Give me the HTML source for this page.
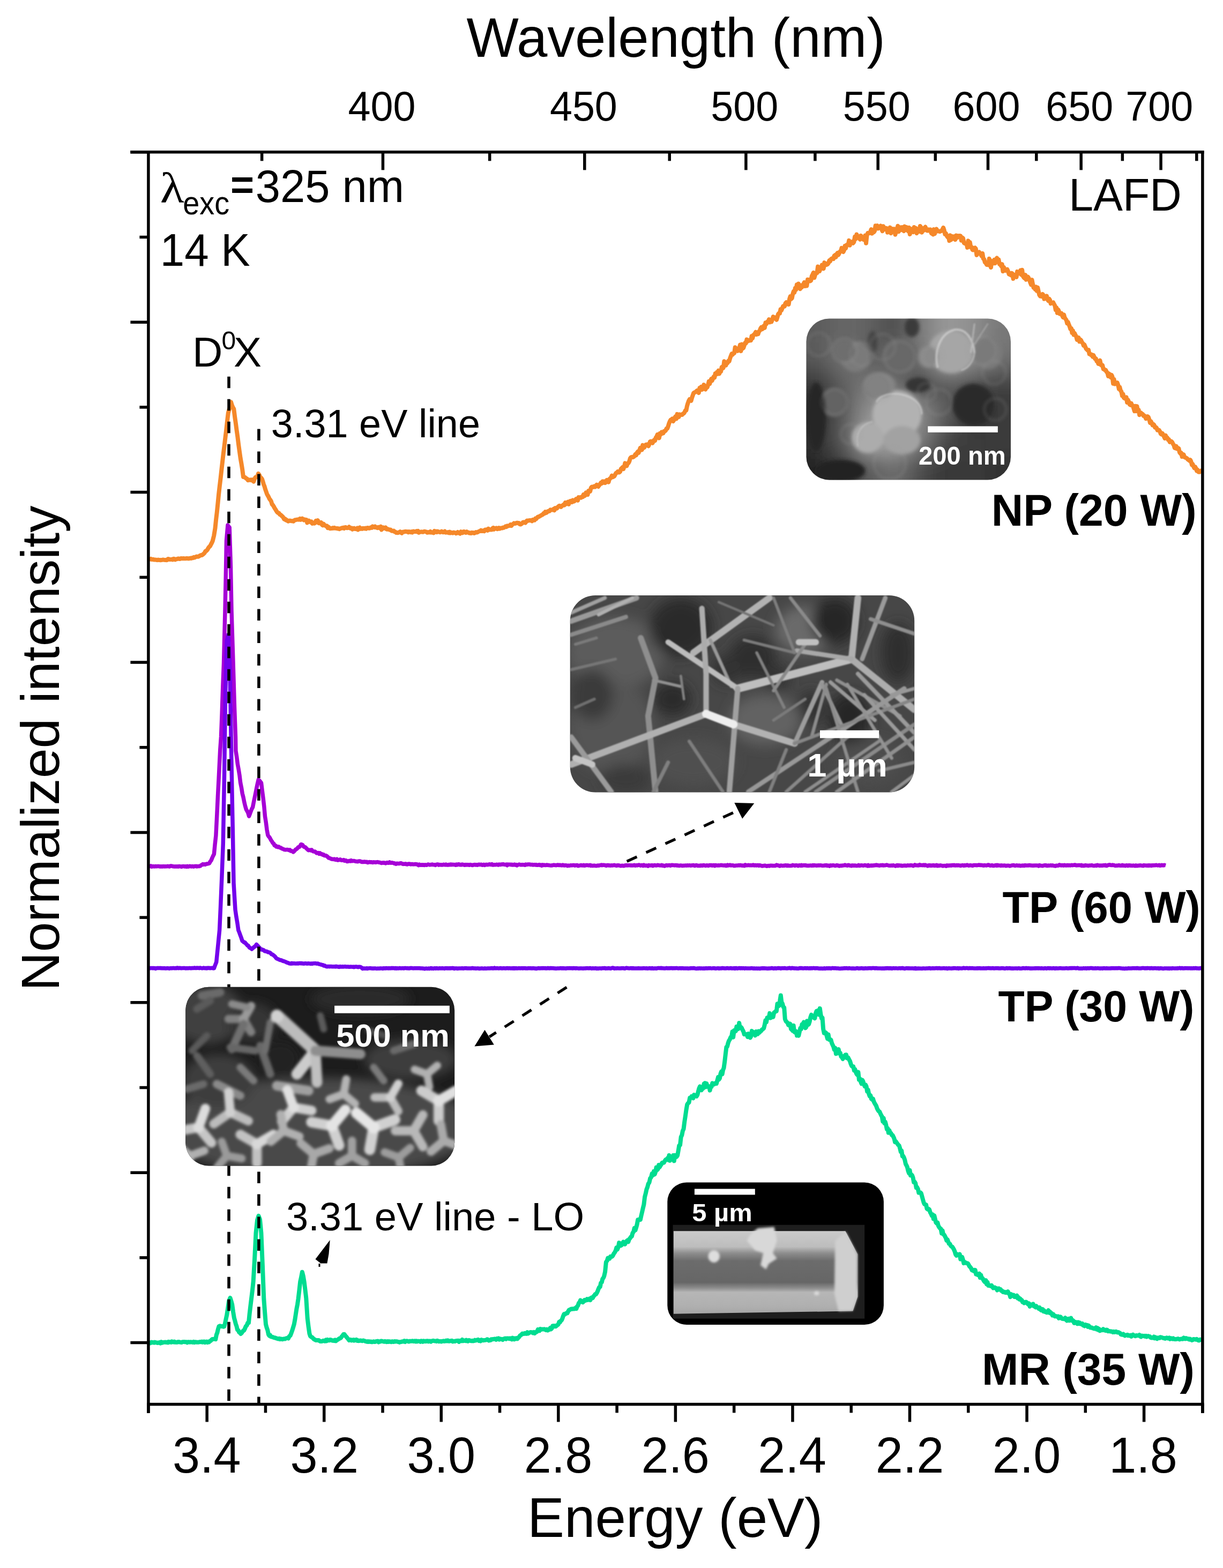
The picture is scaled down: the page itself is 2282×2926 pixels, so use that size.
<!DOCTYPE html>
<html><head><meta charset="utf-8"><title>PL spectra</title><style>html,body{margin:0;padding:0;background:#fff;width:2282px;height:2926px;overflow:hidden}svg{display:block}</style></head><body>
<svg width="2282" height="2926" viewBox="0 0 2282 2926">
<rect width="2282" height="2926" fill="#fff"/>
<polyline points="276.9,1042.9 278.4,1043.5 279.9,1043.5 281.4,1042.8 282.9,1044.1 284.4,1044.1 286.0,1043.7 287.5,1044.6 289.0,1044.5 290.5,1044.6 292.0,1044.8 293.5,1045.2 295.0,1044.5 296.6,1045.1 298.1,1044.9 299.6,1045.3 301.1,1044.9 302.7,1044.8 304.2,1044.4 305.7,1044.7 307.3,1044.9 308.8,1044.9 310.3,1045.2 311.8,1045.0 313.4,1042.9 314.9,1043.2 316.4,1044.1 317.9,1044.0 319.4,1043.9 321.0,1043.6 322.5,1044.4 324.0,1042.7 325.5,1043.1 327.0,1044.4 328.5,1043.4 330.0,1043.3 331.5,1042.7 333.0,1042.3 334.5,1043.0 336.0,1042.9 337.5,1042.0 339.0,1042.1 340.5,1042.3 342.1,1041.9 343.8,1042.3 345.4,1042.3 347.1,1042.2 348.7,1041.7 350.3,1042.2 352.0,1042.4 353.6,1042.0 355.3,1041.4 356.9,1041.9 358.5,1040.9 360.1,1041.2 361.7,1039.8 363.4,1040.4 365.0,1039.4 366.6,1038.5 368.2,1038.8 369.8,1038.7 371.4,1038.1 373.1,1036.8 374.7,1036.0 376.4,1036.1 378.0,1035.1 379.8,1033.6 381.6,1032.0 383.3,1028.7 385.1,1027.8 386.9,1026.0 388.6,1022.9 390.4,1020.4 392.1,1018.9 393.7,1015.7 395.2,1013.0 396.8,1009.3 399.2,999.6 401.5,985.7 403.1,969.9 404.8,955.7 406.4,940.0 408.1,922.5 409.9,906.6 411.6,892.4 413.4,876.3 415.2,860.4 416.9,845.6 418.7,831.5 420.5,816.4 422.3,801.6 424.0,786.0 425.8,770.8 427.5,764.4 429.3,759.3 431.0,750.2 432.8,756.1 434.5,760.0 436.3,763.0 438.1,777.4 439.8,789.2 441.6,803.1 443.4,815.5 445.1,829.4 446.9,842.5 448.7,855.3 450.5,865.5 452.2,876.2 454.0,890.1 455.7,890.1 457.5,891.0 459.2,892.8 461.0,893.3 462.7,896.1 464.2,895.6 465.7,895.8 467.2,895.2 468.8,896.1 470.3,895.2 471.8,897.1 473.3,898.5 475.0,893.6 476.8,890.4 478.5,890.4 480.3,889.2 482.0,883.8 483.8,886.3 485.5,890.4 487.2,891.5 489.0,894.0 490.5,898.7 492.0,903.9 493.5,907.6 495.0,912.9 496.5,917.1 498.0,921.6 499.6,924.6 501.2,927.3 502.8,931.0 504.4,932.9 506.0,935.5 507.6,941.0 509.2,942.5 510.8,945.1 512.4,948.2 514.0,950.5 515.6,953.3 517.2,955.6 518.8,957.1 520.5,957.5 522.1,960.1 523.7,960.7 525.3,962.3 526.9,963.6 528.5,965.6 530.1,968.6 531.8,968.0 533.4,970.5 535.0,970.3 536.5,972.0 538.1,972.8 539.6,971.7 541.1,971.5 542.7,972.0 544.2,972.3 545.7,972.1 547.3,972.8 548.8,971.3 550.3,970.3 551.9,970.3 553.4,969.8 554.9,969.6 556.5,969.5 558.0,969.7 559.5,967.9 561.0,969.8 562.5,968.0 564.0,967.6 565.5,969.5 567.0,970.6 568.5,969.4 570.1,970.1 571.6,969.9 573.2,975.5 574.8,973.5 576.3,971.8 577.9,973.0 579.5,974.3 581.0,973.4 582.6,976.9 584.3,975.6 586.1,976.7 587.8,976.0 589.5,971.8 591.3,974.2 593.0,971.2 594.5,976.1 596.1,975.6 597.6,976.5 599.2,975.0 600.8,979.1 602.3,980.3 603.9,977.6 605.4,980.3 606.9,980.6 608.5,981.9 610.0,981.4 611.6,985.2 613.1,983.5 614.7,984.8 616.2,986.3 617.8,985.9 619.3,985.9 620.9,985.0 622.4,985.8 623.9,984.9 625.4,985.7 627.0,985.9 628.5,985.9 630.0,986.4 631.5,986.2 633.1,987.3 634.6,986.4 636.1,986.0 637.6,985.2 639.2,985.6 640.7,984.7 642.2,986.0 643.8,984.0 645.3,984.0 646.8,985.2 648.3,985.2 649.9,984.7 651.4,983.3 652.9,985.7 654.4,986.0 656.0,985.3 657.5,987.8 659.0,986.2 660.5,985.6 662.1,987.0 663.6,987.0 665.1,987.4 666.6,985.6 668.1,988.5 669.6,985.6 671.2,984.5 672.7,986.8 674.2,986.0 675.7,986.9 677.2,985.7 678.7,986.1 680.2,986.4 681.7,985.5 683.2,986.8 684.8,985.4 686.3,984.9 687.8,985.7 689.3,985.8 690.8,985.1 692.3,984.0 693.8,984.9 695.3,982.3 696.9,983.0 698.4,983.9 699.9,982.5 701.4,984.2 702.9,984.4 704.4,985.2 705.9,983.7 707.4,984.1 708.9,985.6 710.5,982.6 712.0,988.4 713.5,985.0 715.0,984.4 716.5,986.0 718.0,985.6 719.5,984.4 721.0,987.4 722.5,987.8 724.0,987.3 725.5,988.0 727.0,988.8 728.6,988.4 730.1,990.1 731.6,990.8 733.1,990.8 734.6,990.5 736.1,992.3 737.6,992.5 739.1,994.0 740.6,993.7 742.2,994.3 743.7,993.6 745.2,993.2 746.7,992.1 748.2,994.0 749.8,994.8 751.3,992.6 752.8,992.4 754.3,992.4 755.8,991.9 757.4,991.8 758.9,992.3 760.4,992.1 761.9,993.3 763.4,992.1 765.0,992.5 766.5,993.3 768.0,992.2 769.5,993.5 771.0,991.5 772.6,991.8 774.1,992.2 775.6,992.1 777.1,991.2 778.7,992.6 780.2,991.1 781.7,993.8 783.2,992.7 784.7,992.7 786.3,992.3 787.8,992.7 789.3,992.8 790.8,991.9 792.3,991.7 793.9,992.1 795.4,992.4 796.9,993.8 798.4,993.7 799.9,992.9 801.5,993.4 803.0,991.9 804.5,993.7 806.0,993.3 807.5,993.9 809.0,994.4 810.5,990.9 812.0,992.8 813.5,991.7 815.0,993.1 816.5,991.6 818.0,992.0 819.5,992.8 821.0,993.3 822.5,992.6 824.0,991.6 825.5,992.3 827.0,993.3 828.5,992.7 830.0,991.6 831.5,993.8 833.0,993.3 834.5,993.7 836.0,993.1 837.5,994.3 839.0,992.8 840.5,994.5 842.0,993.6 843.5,994.2 845.0,994.7 846.5,993.5 848.0,993.9 849.5,994.2 851.0,995.4 852.5,994.8 854.0,993.0 855.5,994.4 857.0,994.9 858.5,995.8 860.0,992.2 861.6,993.3 863.1,994.3 864.7,992.0 866.2,992.0 867.8,993.5 869.3,994.1 870.9,992.3 872.4,993.5 874.0,993.4 875.6,994.8 877.1,994.2 878.7,995.2 880.2,993.9 881.8,994.4 883.3,994.0 884.9,995.0 886.4,994.2 888.0,993.1 889.6,993.6 891.1,993.1 892.7,992.1 894.3,991.4 895.8,991.1 897.4,989.6 899.0,991.1 900.5,991.1 902.1,990.0 903.6,991.2 905.2,988.6 906.8,988.5 908.3,988.0 909.9,989.8 911.4,986.7 912.9,988.4 914.4,988.6 915.9,988.0 917.4,988.5 918.9,986.1 920.4,985.0 921.9,987.7 923.4,985.7 924.9,986.2 926.4,985.3 927.9,987.3 929.4,986.7 930.9,985.2 932.4,986.6 933.9,985.6 935.4,985.5 936.9,985.6 938.4,984.4 939.9,984.7 941.5,983.8 943.1,982.4 944.7,983.2 946.3,981.2 947.9,981.7 949.5,980.9 951.1,981.1 952.6,978.9 954.2,981.1 955.8,978.8 957.4,977.8 959.0,976.3 960.6,977.1 962.2,976.6 963.8,975.8 965.3,975.6 966.8,976.3 968.3,976.0 969.8,978.2 971.3,978.6 972.8,977.7 974.3,976.7 975.8,974.6 977.3,974.3 978.8,975.2 980.3,975.6 981.8,973.5 983.3,971.5 984.8,971.8 986.3,971.4 987.8,971.0 989.4,971.3 991.0,970.9 992.6,972.3 994.2,969.8 995.8,970.7 997.3,970.8 998.9,967.7 1000.5,968.3 1002.1,966.2 1003.7,964.4 1005.2,964.5 1006.8,963.3 1008.3,962.6 1009.9,961.7 1011.4,960.7 1012.9,960.2 1014.5,957.7 1016.0,958.2 1017.5,955.1 1019.1,956.9 1020.6,956.1 1022.2,954.1 1023.7,954.1 1025.2,953.8 1026.8,951.3 1028.3,951.4 1029.9,951.6 1031.4,951.5 1032.9,949.8 1034.5,952.2 1036.0,948.0 1037.5,948.5 1039.1,948.7 1040.6,946.4 1042.2,944.8 1043.7,943.8 1045.3,945.3 1046.9,946.0 1048.5,943.8 1050.1,943.2 1051.7,941.6 1053.2,942.6 1054.8,937.9 1056.4,940.6 1058.0,939.1 1059.6,936.6 1061.1,941.0 1062.7,935.6 1064.2,935.0 1065.8,934.7 1067.3,937.0 1068.8,933.4 1070.4,935.8 1071.9,935.2 1073.4,933.5 1075.0,931.0 1076.5,931.1 1078.1,933.8 1079.6,928.0 1081.1,928.6 1082.7,928.1 1084.2,928.7 1085.8,927.0 1087.3,927.3 1088.8,922.8 1090.4,925.6 1091.9,924.4 1093.4,919.4 1095.0,922.9 1096.5,923.0 1098.1,916.0 1099.6,916.1 1101.1,916.9 1102.7,910.6 1104.2,908.4 1105.7,908.5 1107.3,908.9 1108.8,907.5 1110.3,908.7 1111.8,907.5 1113.4,904.6 1114.9,906.5 1116.4,907.9 1118.0,905.5 1119.5,903.8 1121.1,901.0 1122.7,902.1 1124.3,898.3 1125.9,900.6 1127.5,898.4 1129.1,901.0 1130.7,899.8 1132.3,895.8 1133.9,897.8 1135.5,899.6 1137.1,894.2 1138.6,892.7 1140.2,891.3 1141.7,887.6 1143.3,890.4 1144.8,889.4 1146.4,888.6 1147.9,885.5 1149.5,882.6 1151.0,882.2 1152.6,880.0 1154.1,881.5 1155.6,881.5 1157.2,879.9 1158.7,874.9 1160.2,873.7 1161.7,871.9 1163.3,875.1 1164.8,870.4 1166.3,864.4 1167.9,867.8 1169.4,869.3 1171.0,864.9 1172.6,864.1 1174.3,860.8 1175.9,855.2 1177.5,853.2 1179.1,852.7 1180.8,853.2 1182.4,852.6 1184.0,850.9 1185.5,847.8 1187.0,849.3 1188.6,844.8 1190.1,842.7 1191.6,845.0 1193.1,840.6 1194.7,835.9 1196.2,837.7 1197.7,839.5 1199.2,830.8 1200.8,835.7 1202.3,835.1 1203.8,831.4 1205.3,829.7 1206.9,830.1 1208.4,829.2 1209.9,832.4 1211.4,829.3 1213.0,824.0 1214.5,823.5 1216.1,825.9 1217.6,826.8 1219.1,822.8 1220.7,821.1 1222.2,822.2 1223.7,816.8 1225.3,814.5 1226.8,810.8 1228.4,811.6 1229.9,817.4 1231.4,808.7 1233.0,810.5 1234.5,806.4 1236.0,808.7 1237.5,808.6 1239.1,804.6 1240.6,804.6 1242.1,803.4 1243.7,799.7 1245.2,799.7 1246.7,795.6 1248.3,790.2 1249.8,786.4 1251.3,783.7 1252.8,784.8 1254.4,781.3 1255.9,786.2 1257.4,784.0 1259.0,779.2 1260.5,777.1 1262.0,781.5 1263.6,772.9 1265.1,775.0 1266.6,778.0 1268.1,773.3 1269.7,774.4 1271.2,774.0 1272.7,774.1 1274.3,772.0 1275.8,771.6 1277.3,769.4 1278.9,765.9 1280.4,765.8 1282.0,757.6 1283.5,752.5 1285.0,748.4 1286.6,745.3 1288.1,746.7 1289.6,747.7 1291.2,741.9 1292.7,737.6 1294.3,733.2 1295.8,732.4 1297.4,731.8 1299.0,730.3 1300.6,728.8 1302.2,730.1 1303.8,733.0 1305.4,724.1 1307.0,727.9 1308.5,721.8 1310.1,726.9 1311.7,723.7 1313.3,718.0 1314.9,723.0 1316.5,726.5 1318.1,720.5 1319.7,722.7 1321.2,718.2 1322.7,711.9 1324.2,716.3 1325.7,711.1 1327.2,707.0 1328.7,710.3 1330.2,706.3 1331.7,702.8 1333.2,704.7 1334.7,697.1 1336.2,698.8 1337.7,694.7 1339.2,697.6 1340.7,691.6 1342.2,697.4 1343.7,692.2 1345.2,693.1 1346.7,684.9 1348.2,684.3 1349.7,686.6 1351.3,674.3 1352.8,677.5 1354.4,681.7 1356.0,677.7 1357.6,677.4 1359.1,673.4 1360.7,673.8 1362.3,668.1 1363.8,664.2 1365.4,660.2 1367.0,661.6 1368.6,659.2 1370.1,659.0 1371.7,648.2 1373.2,650.1 1374.8,652.6 1376.3,654.7 1377.9,650.4 1379.5,649.0 1381.0,643.6 1382.5,655.1 1384.1,642.4 1385.7,650.4 1387.2,649.2 1388.8,644.5 1390.3,639.8 1391.8,640.4 1393.4,633.6 1394.9,636.8 1396.5,634.8 1398.0,635.6 1399.6,634.3 1401.1,635.1 1402.6,627.2 1404.1,631.3 1405.6,625.3 1407.1,624.1 1408.6,622.5 1410.1,619.8 1411.6,624.2 1413.1,623.2 1414.6,623.2 1416.1,618.4 1417.6,617.3 1419.1,612.9 1420.6,610.6 1422.1,614.4 1423.6,612.7 1425.2,608.1 1426.8,611.9 1428.4,602.3 1430.0,604.5 1431.6,600.4 1433.2,600.5 1434.8,596.0 1436.3,601.3 1437.9,599.9 1439.5,600.5 1441.1,596.4 1442.7,591.0 1444.3,593.6 1445.9,592.5 1447.5,595.0 1449.0,596.8 1450.5,592.1 1452.0,586.2 1453.5,584.6 1455.0,584.6 1456.5,577.3 1458.0,579.2 1459.5,575.6 1461.0,571.6 1462.5,570.8 1464.0,571.5 1465.5,566.1 1467.0,564.3 1468.5,567.4 1470.1,564.5 1471.6,568.0 1473.1,558.0 1474.6,553.2 1476.2,558.0 1477.7,556.5 1479.2,548.7 1480.7,543.9 1482.3,545.7 1483.8,537.8 1485.3,540.6 1486.8,531.3 1488.4,536.3 1489.9,529.5 1491.4,533.0 1493.0,539.1 1494.5,532.9 1496.1,536.2 1497.6,531.8 1499.2,530.2 1500.7,526.9 1502.3,533.9 1503.8,529.0 1505.4,533.4 1507.0,521.7 1508.5,522.3 1510.1,521.8 1511.6,524.4 1513.2,523.5 1514.7,515.4 1516.3,512.3 1517.8,508.8 1519.4,518.3 1521.2,512.4 1523.0,509.2 1524.5,509.3 1526.1,497.5 1527.6,499.2 1529.1,506.2 1530.6,502.2 1532.2,500.3 1533.7,494.7 1535.2,498.4 1536.7,501.3 1538.3,490.1 1539.8,495.0 1541.3,492.0 1542.8,493.8 1544.4,492.9 1545.9,490.9 1547.4,486.1 1549.0,487.4 1550.5,483.7 1552.0,482.6 1553.6,482.0 1555.1,483.1 1556.6,477.3 1558.2,476.0 1559.7,479.8 1561.2,474.1 1562.8,472.0 1564.3,475.7 1565.8,472.8 1567.4,469.3 1568.9,468.8 1570.4,462.9 1572.0,468.0 1573.5,470.0 1575.0,466.9 1576.5,459.1 1578.1,463.2 1579.6,457.2 1581.1,456.8 1582.6,456.5 1584.2,448.8 1585.7,457.7 1587.2,451.6 1588.7,453.6 1590.3,451.2 1591.8,453.7 1593.4,451.6 1595.1,441.8 1596.7,446.0 1598.4,437.5 1600.0,440.9 1601.6,443.7 1603.2,444.7 1604.8,446.8 1606.4,439.9 1608.0,443.6 1609.6,443.3 1611.2,447.2 1612.8,447.6 1614.4,439.6 1616.0,453.7 1617.6,439.0 1619.2,434.9 1620.8,435.5 1622.4,435.0 1624.0,432.6 1625.6,428.1 1627.2,435.6 1628.8,429.6 1630.4,433.3 1632.0,431.2 1633.6,421.3 1635.2,422.0 1636.8,421.1 1638.4,426.4 1640.0,425.4 1641.6,425.1 1643.2,421.4 1644.8,427.0 1646.4,431.2 1648.0,422.2 1649.6,426.7 1651.2,427.8 1652.8,425.6 1654.4,425.9 1656.0,433.7 1657.6,432.8 1659.2,431.9 1660.8,424.6 1662.5,435.2 1664.1,428.2 1665.7,427.1 1667.3,429.1 1668.9,427.5 1670.5,437.7 1672.1,429.7 1673.7,428.5 1675.3,421.7 1676.9,432.3 1678.5,426.4 1680.1,424.4 1681.7,429.0 1683.3,424.1 1684.9,429.6 1686.5,431.1 1688.1,422.6 1689.7,429.3 1691.3,423.9 1692.9,428.1 1694.5,431.3 1696.1,424.7 1697.7,437.1 1699.3,429.9 1700.9,427.4 1702.5,429.8 1704.1,433.1 1705.7,424.0 1707.3,429.8 1708.9,425.8 1710.5,435.2 1712.1,430.6 1713.7,427.6 1715.3,432.0 1716.9,422.0 1718.5,424.3 1720.1,433.6 1721.7,426.4 1723.3,430.4 1724.9,425.4 1726.5,423.6 1728.1,426.8 1729.7,430.3 1731.3,430.6 1732.9,428.5 1734.5,429.7 1736.1,428.4 1737.7,435.1 1739.3,436.2 1740.9,437.5 1742.5,428.1 1744.1,436.4 1745.7,431.2 1747.3,427.5 1748.9,430.5 1750.5,431.5 1752.1,431.4 1753.7,432.2 1755.3,431.2 1756.9,430.8 1758.5,428.4 1760.1,424.8 1761.7,429.5 1763.3,436.8 1764.9,435.5 1766.5,439.9 1768.1,442.5 1769.7,441.2 1771.3,449.3 1772.9,439.3 1774.5,447.6 1776.1,444.3 1777.7,441.2 1779.3,445.3 1780.9,441.5 1782.5,447.1 1784.1,439.5 1785.8,443.6 1787.4,440.0 1789.0,440.6 1790.6,439.9 1792.2,440.1 1793.8,448.8 1795.4,443.4 1797.0,444.7 1798.6,453.1 1800.2,454.2 1801.8,454.4 1803.4,454.1 1805.0,461.9 1806.6,449.4 1808.2,451.8 1809.8,452.2 1811.4,461.4 1813.0,461.2 1814.5,466.2 1816.1,466.5 1817.7,463.2 1819.2,462.4 1820.8,464.2 1822.4,476.0 1823.9,471.6 1825.5,471.1 1827.0,470.4 1828.6,472.9 1830.1,474.8 1831.7,477.8 1833.2,472.9 1834.7,482.6 1836.3,483.7 1837.8,489.5 1839.4,490.6 1841.0,493.8 1842.6,491.3 1844.2,494.4 1845.8,482.8 1847.4,488.1 1849.0,499.0 1850.6,487.2 1852.2,490.2 1853.8,491.1 1855.4,484.8 1857.0,491.2 1858.6,484.0 1860.2,481.5 1861.8,485.0 1863.4,484.6 1865.0,493.0 1866.6,493.1 1868.2,496.6 1869.8,493.2 1871.4,506.2 1873.0,498.7 1874.6,501.9 1876.2,504.9 1877.8,503.5 1879.4,502.7 1881.0,506.4 1882.6,511.6 1884.2,511.3 1885.8,513.3 1887.4,509.6 1889.0,510.5 1890.6,520.0 1892.1,512.7 1893.6,515.4 1895.1,515.8 1896.6,517.0 1898.1,506.9 1899.6,509.8 1901.1,509.8 1902.7,510.4 1904.2,504.5 1905.7,512.5 1907.2,503.8 1908.7,515.2 1910.2,517.6 1911.7,519.1 1913.2,513.2 1914.7,521.8 1916.3,516.8 1917.8,516.5 1919.3,518.8 1920.9,522.7 1922.4,527.1 1923.9,531.2 1925.5,522.3 1927.0,530.2 1928.5,536.5 1930.1,536.3 1931.6,539.9 1933.1,535.3 1934.7,542.6 1936.2,536.7 1937.7,543.5 1939.3,550.3 1940.8,552.5 1942.3,550.3 1943.8,553.1 1945.4,548.9 1946.9,551.0 1948.4,557.8 1949.9,554.9 1951.5,555.6 1953.0,552.4 1954.5,558.7 1956.0,561.2 1957.6,557.6 1959.1,559.9 1960.6,566.4 1962.2,564.6 1963.7,565.3 1965.2,564.5 1966.7,567.5 1968.3,570.2 1969.8,578.2 1971.3,574.1 1972.8,583.9 1974.4,577.8 1975.9,581.0 1977.4,585.8 1978.9,585.4 1980.5,584.6 1982.0,589.0 1983.5,592.1 1985.1,587.3 1986.6,592.9 1988.1,595.0 1989.7,597.3 1991.2,603.2 1992.7,601.1 1994.3,605.4 1995.8,609.1 1997.3,614.0 1998.9,612.7 2000.4,621.0 2001.9,617.0 2003.5,624.6 2005.0,621.8 2006.5,624.9 2008.1,627.9 2009.6,633.9 2011.1,632.0 2012.7,630.3 2014.2,637.4 2015.7,633.6 2017.3,635.3 2018.8,638.9 2020.3,640.3 2021.9,644.9 2023.4,643.2 2024.9,646.9 2026.5,650.6 2028.0,652.1 2029.5,653.8 2031.1,653.2 2032.6,660.5 2034.1,660.2 2035.7,662.5 2037.2,661.9 2038.7,665.6 2040.3,663.0 2041.8,666.0 2043.3,669.6 2044.9,669.3 2046.4,674.1 2047.9,674.0 2049.5,679.0 2051.0,675.3 2052.5,672.8 2054.1,681.0 2055.6,682.0 2057.1,681.5 2058.7,688.6 2060.2,688.8 2061.7,690.5 2063.3,690.6 2064.8,694.1 2066.3,695.3 2067.9,701.9 2069.4,697.3 2070.9,701.6 2072.5,704.1 2074.0,699.7 2075.5,702.9 2077.1,715.8 2078.6,707.8 2080.1,716.5 2081.7,714.2 2083.2,716.4 2084.7,714.1 2086.3,718.3 2087.8,725.6 2089.3,722.4 2090.9,728.9 2092.4,730.8 2093.9,738.5 2095.5,735.3 2097.0,742.3 2098.5,743.6 2100.1,743.2 2101.6,741.4 2103.1,751.0 2104.7,746.3 2106.2,749.8 2107.7,754.7 2109.3,755.8 2110.8,752.7 2112.3,756.4 2113.9,757.1 2115.4,762.4 2116.9,767.2 2118.5,757.7 2120.0,767.1 2121.5,758.1 2123.0,767.4 2124.6,764.8 2126.1,774.2 2127.6,771.6 2129.1,770.4 2130.6,772.3 2132.2,772.8 2133.7,775.9 2135.2,775.5 2136.7,777.7 2138.2,781.2 2139.8,780.4 2141.3,777.2 2142.8,778.4 2144.3,782.5 2145.9,788.8 2147.4,786.2 2148.9,789.1 2150.5,793.3 2152.0,791.7 2153.5,793.2 2155.1,797.7 2156.6,797.2 2158.1,798.7 2159.7,802.7 2161.2,802.1 2162.7,802.7 2164.3,805.1 2165.8,809.5 2167.3,810.6 2168.9,808.8 2170.4,811.5 2171.9,814.5 2173.4,817.8 2175.0,812.5 2176.5,816.6 2178.0,816.8 2179.5,820.6 2181.1,820.1 2182.6,824.9 2184.1,824.3 2185.6,823.6 2187.2,825.1 2188.7,828.4 2190.2,830.5 2191.8,836.0 2193.3,836.4 2194.8,832.7 2196.4,837.5 2197.9,836.0 2199.4,836.9 2201.0,844.2 2202.5,846.3 2204.0,845.0 2205.6,852.2 2207.1,847.9 2208.6,848.4 2210.2,853.0 2211.7,853.9 2213.2,854.3 2214.8,855.3 2216.3,857.4 2217.8,858.3 2219.3,859.7 2220.9,858.2 2222.4,861.1 2223.9,867.2 2225.4,866.1 2227.0,870.4 2228.5,873.3 2230.0,871.1 2231.5,873.8 2233.1,878.7 2234.6,876.8 2236.4,880.7 2238.2,880.8 2239.9,879.4 2241.7,878.2 2243.5,878.0" fill="none" stroke="#F5882A" stroke-width="8" stroke-linejoin="round" stroke-linecap="butt"/>
<polyline points="276.9,1616.7 278.4,1616.5 279.9,1616.5 281.4,1615.8 282.9,1617.2 284.4,1616.9 286.0,1616.5 287.5,1616.9 289.0,1616.8 290.5,1616.4 292.0,1616.8 293.5,1616.6 295.0,1616.6 296.5,1616.5 298.0,1617.0 299.5,1616.8 301.1,1617.1 302.6,1616.7 304.1,1617.0 305.6,1616.6 307.1,1617.0 308.6,1616.8 310.1,1616.7 311.6,1616.7 313.1,1616.2 314.6,1616.7 316.1,1617.1 317.7,1616.0 319.2,1615.9 320.7,1616.0 322.2,1616.8 323.7,1616.7 325.2,1617.1 326.7,1616.9 328.2,1616.8 329.7,1616.9 331.2,1616.8 332.8,1617.2 334.3,1616.5 335.8,1616.7 337.3,1616.9 338.8,1617.4 340.3,1616.6 341.8,1616.4 343.3,1616.6 344.8,1617.1 346.3,1616.7 347.8,1617.4 349.4,1616.3 350.9,1617.2 352.4,1617.1 353.9,1616.2 355.4,1616.6 356.9,1617.0 358.4,1616.5 359.9,1616.8 361.4,1617.2 362.9,1616.5 364.5,1616.4 366.0,1616.3 367.5,1616.9 369.0,1616.6 370.5,1616.5 372.0,1616.5 373.6,1616.0 375.2,1614.7 376.8,1613.9 378.4,1612.6 380.0,1613.3 381.5,1612.7 383.0,1613.2 384.5,1612.3 386.1,1611.9 387.6,1611.9 389.1,1611.5 390.6,1610.9 392.4,1607.6 394.1,1605.5 395.9,1601.0 397.6,1597.3 399.4,1593.7 401.1,1575.7 402.9,1559.4 404.7,1523.2 406.4,1486.9 408.2,1452.1 410.8,1398.8 412.5,1375.0 414.2,1330.5 415.8,1281.8 417.5,1238.5 420.0,1139.5 421.5,1065.1 422.5,1008.7 425.0,980.1 426.6,982.5 428.2,984.1 430.5,1058.1 432.0,1139.4 433.5,1187.2 435.0,1235.2 437.5,1319.7 439.5,1375.3 439.9,1401.0 441.7,1412.3 443.4,1426.0 445.2,1435.8 447.0,1447.0 448.7,1461.1 450.5,1469.9 452.2,1480.7 454.0,1487.7 455.8,1496.9 457.5,1504.0 459.3,1510.3 461.1,1513.5 462.8,1516.7 464.6,1523.1 466.4,1518.6 468.1,1513.7 469.9,1509.4 471.6,1506.3 473.4,1496.9 475.1,1488.8 476.9,1480.0 478.7,1470.9 480.4,1462.8 482.2,1455.1 484.0,1456.3 485.7,1458.7 487.5,1460.9 489.2,1474.9 491.0,1488.7 492.8,1504.5 494.5,1523.5 496.3,1534.9 498.0,1548.3 499.8,1558.3 501.3,1560.9 502.9,1562.5 504.4,1565.3 506.0,1568.3 507.5,1570.2 509.0,1573.1 510.6,1574.0 512.1,1577.7 513.7,1577.6 515.3,1580.0 516.9,1579.5 518.5,1580.8 520.1,1580.1 521.7,1581.7 523.3,1581.7 524.9,1582.8 526.5,1583.8 528.1,1584.1 529.7,1585.2 531.3,1585.5 532.9,1585.8 534.5,1585.6 536.1,1585.5 537.7,1585.9 539.3,1586.6 540.9,1585.9 542.5,1588.1 544.1,1587.8 545.7,1588.7 547.3,1589.9 548.9,1588.5 550.5,1586.6 552.1,1584.9 553.7,1584.2 555.2,1582.7 556.8,1580.7 558.4,1580.6 560.0,1578.8 561.6,1575.7 563.2,1576.0 564.7,1576.8 566.2,1579.4 567.7,1580.6 569.3,1580.7 570.8,1582.1 572.3,1583.7 573.8,1585.1 575.4,1586.7 576.9,1586.4 578.5,1586.1 580.0,1587.0 581.6,1585.9 583.1,1588.0 584.7,1588.8 586.2,1589.0 587.8,1589.0 589.3,1590.4 590.9,1591.9 592.4,1591.7 594.0,1591.5 595.5,1593.3 597.1,1592.0 598.6,1593.7 600.2,1593.6 601.8,1595.1 603.4,1594.6 605.0,1596.4 606.6,1596.7 608.2,1596.5 609.8,1597.4 611.4,1599.0 613.0,1600.9 614.6,1601.0 616.2,1601.8 617.8,1602.7 619.4,1603.2 620.9,1603.2 622.5,1603.5 624.0,1603.0 625.6,1604.3 627.1,1604.5 628.7,1603.3 630.2,1605.2 631.8,1604.8 633.3,1604.5 634.9,1603.8 636.4,1605.1 638.0,1605.4 639.5,1605.0 641.1,1604.6 642.6,1606.3 644.2,1605.6 645.8,1605.7 647.3,1607.4 648.9,1607.4 650.4,1606.8 652.0,1606.3 653.5,1607.0 655.1,1605.7 656.7,1606.8 658.2,1606.6 659.8,1606.5 661.3,1606.4 662.9,1607.3 664.4,1607.4 666.0,1607.4 667.5,1607.8 669.1,1607.1 670.7,1607.1 672.2,1607.1 673.8,1607.9 675.3,1608.5 676.9,1608.2 678.4,1608.6 680.0,1607.9 681.5,1608.4 683.0,1608.4 684.5,1608.3 686.1,1609.6 687.6,1609.2 689.1,1608.6 690.6,1608.7 692.1,1609.1 693.6,1608.7 695.1,1609.5 696.6,1608.8 698.2,1609.1 699.7,1608.9 701.2,1609.2 702.7,1608.9 704.2,1608.6 705.7,1608.9 707.2,1609.2 708.8,1609.5 710.3,1609.9 711.8,1610.6 713.3,1610.2 714.8,1609.7 716.3,1610.3 717.8,1610.0 719.3,1610.9 720.9,1610.4 722.4,1609.5 723.9,1610.3 725.4,1610.3 726.9,1608.9 728.4,1610.1 729.9,1610.2 731.4,1609.8 732.9,1610.3 734.4,1610.4 735.9,1611.4 737.4,1611.2 738.9,1612.3 740.4,1611.2 741.9,1611.6 743.4,1611.4 744.9,1611.5 746.4,1610.9 747.9,1610.7 749.4,1611.1 750.9,1612.0 752.4,1612.5 753.9,1612.1 755.5,1612.3 757.0,1611.8 758.5,1612.8 760.0,1613.0 761.5,1612.1 763.0,1612.2 764.5,1612.0 766.0,1613.0 767.5,1612.6 769.0,1612.5 770.5,1612.8 772.0,1612.9 773.5,1612.7 775.0,1612.5 776.5,1612.7 778.0,1612.8 779.5,1613.8 781.0,1614.6 782.5,1613.1 784.0,1614.0 785.5,1614.3 787.0,1613.7 788.5,1614.3 790.0,1613.7 791.5,1614.5 793.0,1613.8 794.5,1614.1 796.0,1614.3 797.5,1613.6 799.0,1613.0 800.5,1613.5 802.0,1613.9 803.5,1613.5 805.0,1613.6 806.5,1613.1 808.0,1613.6 809.5,1613.8 811.1,1613.8 812.6,1614.4 814.1,1613.4 815.6,1613.0 817.1,1612.9 818.6,1614.1 820.1,1613.5 821.6,1613.9 823.1,1613.7 824.6,1614.1 826.1,1613.9 827.6,1613.3 829.1,1613.6 830.6,1613.9 832.1,1613.0 833.6,1614.0 835.1,1613.9 836.6,1613.9 838.1,1613.4 839.6,1613.7 841.1,1613.1 842.6,1613.7 844.1,1613.3 845.6,1613.6 847.1,1613.4 848.6,1613.7 850.1,1614.2 851.6,1613.0 853.1,1613.9 854.6,1612.9 856.1,1612.7 857.6,1613.7 859.1,1613.6 860.6,1613.9 862.2,1612.9 863.7,1613.5 865.2,1613.8 866.7,1614.3 868.2,1613.6 869.7,1614.1 871.2,1613.6 872.7,1614.0 874.2,1613.8 875.7,1614.3 877.2,1613.6 878.7,1613.7 880.2,1614.2 881.7,1614.5 883.2,1613.9 884.7,1613.7 886.2,1613.5 887.7,1614.1 889.2,1613.8 890.7,1614.2 892.2,1613.6 893.7,1613.2 895.2,1613.6 896.7,1613.4 898.2,1613.2 899.7,1614.3 901.2,1614.1 902.7,1613.4 904.2,1614.4 905.7,1613.8 907.2,1613.3 908.7,1613.7 910.2,1613.5 911.7,1613.4 913.3,1612.7 914.8,1613.4 916.3,1613.6 917.8,1612.6 919.3,1613.9 920.8,1614.0 922.3,1613.6 923.8,1613.8 925.3,1613.6 926.8,1613.3 928.3,1613.4 929.8,1614.1 931.3,1613.0 932.8,1613.5 934.3,1613.4 935.8,1612.9 937.3,1613.1 938.8,1612.7 940.3,1613.1 941.8,1613.5 943.3,1613.5 944.8,1613.1 946.3,1614.7 947.8,1613.1 949.3,1613.3 950.8,1613.3 952.3,1613.2 953.8,1613.8 955.3,1613.2 956.8,1614.1 958.3,1613.8 959.8,1613.1 961.3,1614.1 962.8,1613.6 964.4,1615.0 965.9,1613.9 967.4,1613.6 968.9,1613.1 970.4,1613.5 971.9,1613.9 973.4,1613.7 974.9,1613.6 976.4,1613.8 977.9,1613.8 979.4,1614.3 980.9,1613.1 982.4,1613.6 983.9,1613.3 985.4,1612.9 986.9,1612.9 988.4,1612.9 989.9,1613.6 991.4,1613.5 992.9,1613.4 994.4,1613.9 995.9,1613.8 997.4,1613.6 998.9,1614.0 1000.4,1613.6 1001.9,1614.3 1003.4,1614.2 1004.9,1613.9 1006.4,1613.6 1007.9,1614.5 1009.4,1614.1 1010.9,1615.3 1012.4,1613.9 1013.9,1614.6 1015.4,1614.1 1016.9,1614.4 1018.5,1614.5 1020.0,1613.9 1021.5,1614.3 1023.0,1614.5 1024.5,1614.6 1026.0,1614.9 1027.5,1615.1 1029.0,1615.1 1030.5,1614.8 1032.0,1614.4 1033.5,1614.1 1035.0,1614.4 1036.5,1614.5 1038.0,1614.7 1039.5,1614.3 1041.0,1614.0 1042.5,1614.5 1044.0,1614.2 1045.5,1614.3 1047.0,1614.7 1048.5,1614.9 1050.0,1614.1 1051.5,1614.6 1053.0,1615.1 1054.5,1614.8 1056.0,1614.8 1057.5,1614.9 1059.0,1615.8 1060.5,1615.0 1062.0,1615.4 1063.5,1615.1 1065.0,1614.7 1066.5,1614.9 1068.0,1614.7 1069.5,1614.6 1071.0,1614.5 1072.5,1615.2 1074.0,1614.7 1075.5,1614.8 1077.0,1614.5 1078.5,1615.7 1080.0,1615.5 1081.5,1615.1 1083.0,1614.8 1084.5,1614.4 1086.0,1615.1 1087.5,1615.1 1089.0,1614.3 1090.5,1615.3 1092.0,1615.1 1093.5,1614.5 1095.0,1614.6 1096.5,1614.6 1098.0,1614.9 1099.5,1614.8 1101.0,1614.3 1102.5,1615.5 1104.0,1615.1 1105.5,1615.6 1107.0,1615.5 1108.5,1615.0 1110.0,1615.5 1111.5,1615.6 1113.0,1615.7 1114.5,1615.3 1116.0,1615.0 1117.5,1615.2 1119.0,1614.7 1120.5,1614.6 1122.0,1614.1 1123.5,1614.7 1125.0,1614.3 1126.5,1614.3 1128.0,1614.5 1129.5,1614.7 1131.0,1615.4 1132.5,1614.9 1134.0,1614.4 1135.5,1614.9 1137.0,1614.8 1138.5,1615.2 1140.0,1614.9 1141.5,1614.8 1143.0,1614.9 1144.5,1614.8 1146.0,1614.3 1147.5,1614.8 1149.0,1615.1 1150.5,1615.4 1152.0,1614.8 1153.5,1614.7 1155.0,1615.1 1156.5,1615.2 1158.0,1615.7 1159.5,1615.5 1161.0,1615.2 1162.5,1615.6 1164.0,1615.8 1165.5,1614.9 1167.0,1615.1 1168.5,1614.6 1170.0,1615.0 1171.5,1614.7 1173.0,1614.8 1174.5,1614.7 1176.0,1614.9 1177.5,1614.8 1179.0,1615.1 1180.5,1615.0 1182.0,1614.7 1183.5,1614.2 1185.0,1615.2 1186.5,1615.1 1188.0,1614.5 1189.5,1614.9 1191.0,1614.2 1192.5,1614.1 1194.0,1614.6 1195.5,1615.3 1197.0,1614.5 1198.5,1614.6 1200.0,1615.6 1201.5,1614.2 1203.0,1615.3 1204.5,1615.2 1206.0,1615.0 1207.5,1615.2 1209.0,1616.1 1210.5,1614.6 1212.0,1615.0 1213.5,1615.1 1215.0,1615.0 1216.5,1614.6 1218.0,1615.7 1219.5,1615.1 1221.0,1614.4 1222.5,1614.7 1224.0,1615.1 1225.5,1615.0 1227.0,1614.2 1228.5,1614.6 1230.0,1614.8 1231.5,1614.9 1233.0,1615.0 1234.5,1614.2 1236.0,1615.5 1237.5,1615.1 1239.0,1615.7 1240.5,1616.0 1242.0,1615.0 1243.5,1614.5 1245.0,1615.2 1246.5,1614.8 1248.0,1614.7 1249.5,1614.5 1251.0,1615.4 1252.5,1614.5 1254.0,1614.3 1255.5,1614.6 1257.0,1614.5 1258.5,1614.9 1260.0,1614.7 1261.5,1614.5 1263.0,1615.2 1264.5,1614.8 1266.0,1615.4 1267.5,1615.6 1269.0,1615.0 1270.5,1614.9 1272.0,1615.3 1273.5,1615.6 1275.0,1615.2 1276.5,1615.3 1278.0,1615.1 1279.5,1615.1 1281.0,1615.2 1282.5,1614.8 1284.0,1614.9 1285.5,1614.9 1287.0,1614.7 1288.5,1615.2 1290.0,1615.1 1291.5,1614.8 1293.0,1614.6 1294.5,1614.6 1296.0,1615.5 1297.5,1615.2 1299.0,1614.6 1300.5,1614.7 1302.0,1615.6 1303.5,1615.5 1305.0,1615.2 1306.5,1615.6 1308.0,1614.7 1309.5,1615.2 1311.0,1615.4 1312.5,1614.5 1314.0,1614.8 1315.5,1615.3 1317.0,1615.5 1318.5,1614.7 1320.0,1615.0 1321.5,1615.5 1323.0,1614.8 1324.5,1614.4 1326.0,1614.7 1327.5,1614.6 1329.0,1615.2 1330.5,1614.8 1332.0,1614.4 1333.5,1615.7 1335.0,1614.5 1336.5,1614.8 1338.0,1614.9 1339.5,1615.0 1341.0,1614.8 1342.5,1614.9 1344.0,1614.7 1345.5,1614.3 1347.0,1614.7 1348.5,1614.8 1350.0,1614.9 1351.5,1614.9 1353.0,1614.6 1354.5,1615.5 1356.0,1615.4 1357.5,1614.0 1359.0,1614.9 1360.5,1614.8 1362.0,1614.0 1363.5,1615.0 1365.0,1614.7 1366.5,1614.8 1368.0,1614.8 1369.5,1615.6 1371.0,1615.6 1372.5,1615.2 1374.0,1615.1 1375.5,1614.9 1377.0,1615.0 1378.5,1614.5 1380.0,1614.9 1381.5,1614.4 1383.0,1614.9 1384.5,1615.2 1386.0,1614.9 1387.5,1615.3 1389.0,1615.8 1390.5,1613.9 1392.0,1614.9 1393.5,1614.6 1395.0,1614.8 1396.5,1614.3 1398.0,1614.7 1399.5,1614.7 1401.0,1614.6 1402.5,1614.8 1404.0,1614.7 1405.5,1614.0 1407.0,1615.1 1408.5,1614.6 1410.0,1614.6 1411.5,1615.1 1413.0,1614.7 1414.5,1614.4 1416.0,1615.4 1417.5,1614.6 1419.0,1615.1 1420.5,1615.4 1422.0,1615.9 1423.5,1615.8 1425.0,1615.6 1426.5,1615.2 1428.0,1615.3 1429.5,1615.9 1431.0,1616.2 1432.5,1615.8 1434.0,1615.5 1435.5,1615.9 1437.0,1615.3 1438.5,1615.2 1440.0,1615.2 1441.5,1615.5 1443.0,1615.5 1444.5,1615.6 1446.0,1615.6 1447.5,1615.1 1449.0,1614.1 1450.5,1614.5 1452.0,1615.1 1453.5,1615.3 1455.0,1616.0 1456.5,1615.1 1458.0,1615.1 1459.5,1615.5 1461.0,1615.6 1462.5,1615.2 1464.0,1615.4 1465.5,1614.7 1467.0,1614.7 1468.5,1615.6 1470.0,1614.7 1471.5,1615.6 1473.0,1615.5 1474.5,1615.5 1476.0,1615.4 1477.5,1615.3 1479.0,1614.3 1480.5,1614.7 1482.0,1614.9 1483.5,1615.4 1485.0,1614.7 1486.5,1614.8 1488.0,1615.1 1489.5,1615.8 1491.0,1614.7 1492.5,1614.7 1494.0,1615.5 1495.5,1614.3 1497.0,1615.2 1498.5,1614.9 1500.0,1614.5 1501.5,1614.9 1503.0,1614.6 1504.5,1615.2 1506.0,1615.3 1507.5,1615.5 1509.0,1615.2 1510.5,1615.2 1512.0,1615.0 1513.5,1615.1 1515.0,1615.5 1516.5,1614.5 1518.0,1615.2 1519.5,1614.6 1521.0,1614.9 1522.5,1615.0 1524.0,1615.2 1525.5,1614.9 1527.0,1614.8 1528.5,1615.1 1530.0,1614.7 1531.5,1614.8 1533.0,1615.1 1534.5,1615.4 1536.0,1615.2 1537.5,1615.2 1539.0,1614.7 1540.5,1615.0 1542.0,1614.5 1543.5,1615.6 1545.0,1615.0 1546.5,1615.6 1548.0,1616.2 1549.5,1614.7 1551.0,1615.3 1552.5,1615.0 1554.0,1614.7 1555.5,1614.7 1557.0,1615.2 1558.5,1615.6 1560.0,1615.2 1561.5,1614.6 1563.0,1614.9 1564.5,1615.4 1566.0,1615.9 1567.5,1615.4 1569.0,1615.3 1570.5,1615.6 1572.0,1614.9 1573.5,1614.9 1575.0,1614.8 1576.5,1614.1 1578.0,1614.7 1579.5,1614.9 1581.0,1615.2 1582.5,1614.3 1584.0,1614.4 1585.5,1615.2 1587.0,1615.2 1588.5,1615.7 1590.0,1614.8 1591.5,1615.3 1593.0,1614.9 1594.5,1615.2 1596.0,1615.0 1597.5,1615.5 1599.0,1615.6 1600.5,1615.4 1602.0,1614.4 1603.5,1615.6 1605.0,1615.4 1606.5,1614.7 1608.0,1614.8 1609.5,1615.1 1611.0,1615.3 1612.5,1614.8 1614.0,1614.4 1615.5,1615.0 1617.0,1615.0 1618.5,1615.9 1620.0,1614.5 1621.5,1615.8 1623.0,1615.6 1624.5,1615.0 1626.0,1615.4 1627.5,1614.9 1629.0,1615.3 1630.5,1614.7 1632.0,1614.9 1633.5,1614.4 1635.0,1614.1 1636.5,1614.7 1638.0,1614.6 1639.5,1615.0 1641.0,1615.3 1642.5,1614.7 1644.0,1614.6 1645.5,1614.7 1647.0,1614.2 1648.5,1615.1 1650.0,1614.9 1651.5,1614.7 1653.0,1614.4 1654.5,1614.0 1656.0,1614.5 1657.5,1614.9 1659.0,1615.2 1660.5,1615.2 1662.0,1615.2 1663.5,1614.9 1665.0,1615.2 1666.5,1614.7 1668.0,1615.1 1669.5,1615.4 1671.0,1616.0 1672.5,1615.1 1674.0,1614.6 1675.5,1615.7 1677.0,1614.7 1678.5,1615.0 1680.0,1615.2 1681.5,1614.9 1683.0,1615.8 1684.5,1615.6 1686.0,1615.2 1687.5,1615.3 1689.0,1615.0 1690.5,1615.5 1692.0,1615.2 1693.5,1614.8 1695.0,1614.9 1696.5,1614.9 1698.0,1615.1 1699.5,1614.6 1701.0,1614.8 1702.5,1615.1 1704.0,1615.7 1705.5,1615.1 1707.0,1613.9 1708.5,1614.7 1710.0,1614.7 1711.5,1614.8 1713.0,1615.1 1714.5,1614.8 1716.0,1613.5 1717.5,1614.5 1719.0,1614.4 1720.5,1614.4 1722.0,1614.8 1723.5,1614.0 1725.0,1614.9 1726.5,1614.0 1728.0,1614.8 1729.5,1615.2 1731.0,1615.9 1732.5,1614.9 1734.0,1614.5 1735.5,1615.4 1737.0,1614.7 1738.5,1615.5 1740.0,1614.7 1741.5,1614.6 1743.0,1615.4 1744.5,1614.9 1746.0,1615.3 1747.5,1614.4 1749.0,1615.7 1750.5,1614.9 1752.0,1615.6 1753.5,1614.9 1755.0,1614.8 1756.5,1615.2 1758.0,1615.4 1759.5,1615.9 1761.0,1615.5 1762.5,1615.5 1764.0,1615.4 1765.5,1616.2 1767.0,1614.9 1768.5,1615.6 1770.0,1615.0 1771.5,1615.2 1773.0,1614.8 1774.5,1615.3 1776.0,1614.4 1777.5,1614.5 1779.0,1614.8 1780.5,1614.3 1782.0,1615.1 1783.5,1615.1 1785.0,1614.5 1786.5,1615.0 1788.0,1614.5 1789.5,1614.9 1791.0,1614.9 1792.5,1615.6 1794.0,1615.0 1795.5,1614.6 1797.0,1614.7 1798.5,1615.5 1800.0,1614.5 1801.5,1614.9 1803.0,1614.8 1804.5,1614.0 1806.0,1614.8 1807.5,1615.3 1809.0,1614.9 1810.5,1614.5 1812.0,1615.0 1813.5,1614.9 1815.0,1615.5 1816.5,1614.5 1818.0,1614.6 1819.5,1614.6 1821.0,1614.5 1822.5,1614.7 1824.0,1614.5 1825.5,1614.3 1827.0,1614.0 1828.5,1614.5 1830.0,1614.3 1831.5,1614.4 1833.0,1614.7 1834.5,1615.1 1836.0,1615.2 1837.5,1614.5 1839.0,1614.9 1840.5,1615.1 1842.0,1614.7 1843.5,1614.0 1845.0,1614.0 1846.5,1615.1 1848.0,1615.3 1849.5,1614.9 1851.0,1614.5 1852.5,1615.6 1854.0,1615.6 1855.5,1615.1 1857.0,1615.1 1858.5,1614.4 1860.0,1615.4 1861.5,1614.2 1863.0,1615.1 1864.5,1615.1 1866.0,1614.9 1867.5,1615.4 1869.0,1614.8 1870.5,1615.2 1872.0,1615.2 1873.5,1615.0 1875.0,1615.0 1876.5,1615.8 1878.0,1615.5 1879.5,1615.3 1881.0,1615.2 1882.5,1615.2 1884.0,1616.0 1885.5,1615.4 1887.0,1615.3 1888.5,1614.8 1890.0,1614.7 1891.5,1614.4 1893.0,1615.3 1894.5,1615.4 1896.0,1615.0 1897.5,1614.8 1899.0,1615.2 1900.5,1615.3 1902.0,1615.0 1903.5,1615.7 1905.0,1615.5 1906.5,1615.2 1908.0,1615.4 1909.5,1614.9 1911.0,1615.5 1912.5,1614.6 1914.0,1615.0 1915.5,1615.1 1917.0,1614.9 1918.5,1615.1 1920.0,1614.6 1921.5,1614.4 1923.0,1615.0 1924.5,1614.9 1926.0,1615.3 1927.5,1615.1 1929.0,1615.2 1930.5,1615.0 1932.0,1615.0 1933.5,1615.1 1935.0,1614.9 1936.5,1615.1 1938.0,1615.9 1939.5,1614.5 1941.0,1615.1 1942.5,1615.5 1944.0,1615.4 1945.5,1615.7 1947.0,1615.2 1948.5,1614.7 1950.0,1614.9 1951.5,1614.5 1953.0,1615.5 1954.5,1615.6 1956.0,1614.9 1957.5,1615.3 1959.0,1615.1 1960.5,1614.8 1962.0,1615.2 1963.5,1614.7 1965.0,1615.2 1966.5,1615.5 1968.0,1615.7 1969.5,1616.0 1971.0,1615.1 1972.5,1615.3 1974.0,1615.2 1975.5,1615.0 1977.0,1613.7 1978.5,1614.5 1980.0,1615.1 1981.5,1614.4 1983.0,1614.8 1984.5,1615.2 1986.0,1614.2 1987.5,1614.7 1989.0,1615.0 1990.5,1614.9 1992.0,1614.4 1993.5,1615.0 1995.0,1614.6 1996.5,1615.0 1998.0,1614.8 1999.5,1614.3 2001.0,1614.7 2002.5,1614.4 2004.0,1614.2 2005.5,1613.9 2007.0,1614.4 2008.5,1614.9 2010.0,1614.7 2011.5,1614.7 2013.0,1614.6 2014.5,1614.5 2016.0,1615.0 2017.5,1614.3 2019.0,1615.6 2020.5,1615.0 2022.0,1615.7 2023.5,1615.3 2025.0,1614.6 2026.5,1615.1 2028.0,1615.1 2029.5,1615.2 2031.0,1615.5 2032.5,1615.0 2034.0,1614.9 2035.5,1614.9 2037.0,1614.6 2038.5,1615.1 2040.0,1615.4 2041.5,1615.5 2043.0,1615.3 2044.5,1615.0 2046.0,1615.5 2047.5,1614.2 2049.0,1614.9 2050.5,1614.9 2052.0,1615.4 2053.5,1615.1 2055.0,1615.2 2056.5,1614.9 2058.0,1615.3 2059.5,1614.5 2061.0,1615.0 2062.5,1614.2 2064.0,1615.6 2065.5,1615.5 2067.0,1614.5 2068.5,1614.3 2070.0,1613.8 2071.5,1614.0 2073.0,1614.6 2074.5,1614.6 2076.0,1614.1 2077.5,1614.6 2079.0,1614.6 2080.5,1615.3 2082.0,1615.4 2083.5,1615.1 2085.0,1615.2 2086.5,1615.1 2088.0,1614.5 2089.5,1615.3 2091.0,1615.1 2092.5,1615.3 2094.0,1614.4 2095.5,1615.3 2097.0,1614.9 2098.5,1615.3 2100.0,1615.7 2101.5,1614.7 2103.0,1614.7 2104.5,1615.6 2106.0,1614.8 2107.5,1614.7 2109.0,1615.3 2110.5,1615.0 2112.0,1615.4 2113.5,1615.3 2115.0,1615.0 2116.5,1615.4 2118.0,1615.8 2119.5,1614.9 2121.0,1615.7 2122.5,1615.6 2124.0,1615.1 2125.5,1615.3 2127.0,1614.7 2128.5,1614.9 2130.0,1615.3 2131.5,1615.2 2133.0,1615.7 2134.5,1614.6 2136.0,1615.0 2137.5,1615.0 2139.0,1615.1 2140.5,1615.5 2142.0,1614.7 2143.5,1615.4 2145.0,1614.8 2146.5,1614.9 2148.0,1615.4 2149.5,1614.8 2151.0,1615.0 2152.5,1614.8 2154.0,1614.7 2155.5,1614.7 2157.0,1614.2 2158.5,1614.6 2160.0,1614.9 2161.5,1614.8 2163.0,1614.3 2164.5,1615.3 2166.0,1615.1 2167.5,1614.3 2169.0,1614.4 2170.5,1615.0 2172.0,1614.2 2173.5,1614.6 2175.0,1615.0" fill="none" stroke="#A600D6" stroke-width="7.5" stroke-linejoin="round" stroke-linecap="butt"/>
<polyline points="276.9,1806.6 278.4,1806.1 279.9,1806.8 281.4,1806.6 282.9,1806.6 284.5,1806.7 286.0,1806.4 287.5,1806.8 289.0,1806.6 290.5,1807.5 292.0,1806.7 293.5,1806.6 295.0,1806.6 296.5,1806.6 298.1,1806.4 299.6,1806.5 301.1,1806.8 302.6,1806.7 304.1,1806.9 305.6,1806.7 307.1,1806.8 308.6,1807.1 310.1,1806.9 311.7,1806.8 313.2,1806.8 314.7,1806.9 316.2,1807.2 317.7,1806.7 319.2,1806.7 320.7,1806.9 322.2,1806.5 323.7,1806.5 325.3,1806.7 326.8,1806.7 328.3,1806.5 329.8,1806.7 331.3,1806.0 332.8,1806.8 334.3,1806.4 335.8,1806.3 337.3,1806.7 338.9,1806.8 340.4,1806.6 341.9,1806.4 343.4,1806.6 344.9,1806.6 346.4,1807.0 347.9,1806.8 349.4,1806.7 350.9,1806.9 352.5,1806.6 354.0,1806.4 355.5,1806.8 357.0,1806.8 358.5,1806.5 360.0,1806.4 361.5,1806.5 363.0,1805.9 364.5,1806.6 366.1,1806.6 367.6,1806.1 369.1,1806.4 370.6,1806.2 372.1,1806.7 373.6,1806.0 375.1,1806.4 376.6,1806.7 378.1,1806.8 379.7,1806.1 381.2,1806.5 382.7,1806.7 384.2,1806.4 385.7,1806.9 387.2,1806.3 388.7,1806.6 390.2,1806.3 391.7,1806.8 393.3,1806.5 394.8,1806.5 396.3,1806.2 397.8,1807.0 399.3,1806.8 401.5,1801.0 403.7,1795.3 405.2,1780.4 406.7,1765.4 409.6,1735.9 411.6,1691.7 414.0,1634.3 416.3,1574.0 418.5,1449.9 420.5,1300.3 423.0,1195.9 424.5,1191.4 426.0,1184.6 427.5,1216.5 429.0,1250.2 431.5,1401.4 433.0,1480.5 434.5,1559.9 436.0,1647.6 437.5,1672.9 439.0,1697.5 440.9,1710.7 442.9,1722.5 444.8,1735.8 446.6,1740.2 448.4,1745.2 450.2,1750.0 452.0,1755.7 453.6,1756.7 455.2,1758.4 456.9,1758.4 458.5,1760.7 460.1,1762.1 461.7,1764.3 463.3,1764.7 464.9,1767.6 466.6,1769.0 468.2,1769.6 469.8,1771.1 471.6,1769.4 473.3,1768.0 475.1,1766.5 476.8,1765.1 478.6,1762.5 480.4,1764.6 482.1,1766.2 483.9,1768.6 485.6,1769.9 487.4,1771.9 489.0,1771.7 490.6,1772.7 492.2,1773.2 493.8,1774.8 495.4,1775.2 497.0,1775.3 498.6,1775.8 500.2,1777.0 501.8,1777.0 503.4,1777.5 505.0,1778.7 506.7,1780.8 508.3,1781.1 510.0,1782.3 511.7,1783.7 513.4,1785.3 515.0,1787.4 516.7,1789.0 518.3,1789.5 519.8,1790.3 521.4,1790.9 522.9,1791.6 524.5,1791.7 526.0,1792.4 527.6,1793.2 529.1,1793.5 530.7,1794.1 532.2,1794.5 533.8,1795.3 535.3,1796.2 536.9,1796.6 538.4,1797.2 540.0,1798.1 541.5,1797.9 543.0,1798.2 544.5,1797.3 546.1,1798.1 547.6,1797.7 549.1,1797.8 550.6,1798.0 552.1,1798.1 553.6,1798.0 555.1,1797.7 556.7,1798.1 558.2,1797.4 559.7,1797.5 561.2,1797.8 562.7,1797.4 564.2,1798.1 565.7,1797.9 567.3,1798.3 568.8,1797.8 570.3,1797.8 571.8,1798.1 573.3,1798.2 574.8,1797.7 576.3,1798.1 577.9,1798.0 579.4,1798.5 580.9,1797.9 582.4,1798.4 583.9,1797.9 585.4,1797.8 586.9,1797.8 588.5,1797.6 590.0,1798.0 591.5,1798.3 593.0,1798.0 594.6,1798.7 596.2,1799.4 597.8,1799.6 599.4,1800.1 601.0,1800.6 602.5,1800.8 604.1,1802.1 605.7,1801.8 607.3,1803.0 608.9,1803.5 610.4,1803.8 611.9,1803.5 613.5,1803.4 615.0,1803.7 616.5,1803.4 618.0,1803.5 619.5,1803.7 621.1,1803.8 622.6,1803.8 624.1,1803.6 625.6,1803.9 627.1,1803.3 628.6,1803.8 630.2,1803.7 631.7,1804.3 633.2,1804.4 634.7,1803.5 636.2,1804.0 637.8,1804.0 639.3,1803.7 640.8,1804.1 642.3,1803.9 643.8,1803.5 645.4,1804.0 646.9,1804.0 648.4,1804.1 649.9,1803.9 651.4,1804.3 653.0,1804.3 654.5,1803.9 656.0,1804.1 657.5,1804.3 659.0,1804.1 660.5,1804.7 662.1,1804.2 663.6,1803.9 665.1,1803.9 666.6,1804.3 668.1,1804.8 669.7,1804.1 671.2,1804.3 672.7,1804.5 674.6,1805.7 676.5,1807.6 678.0,1806.9 679.5,1807.2 681.0,1807.1 682.5,1807.3 684.0,1806.8 685.5,1807.4 687.0,1806.9 688.5,1806.9 690.0,1806.7 691.5,1806.8 693.0,1807.1 694.5,1807.2 696.0,1807.1 697.5,1807.2 699.0,1807.1 700.5,1807.1 702.0,1807.3 703.5,1807.4 705.0,1807.1 706.5,1807.3 708.0,1807.3 709.5,1807.0 711.0,1806.9 712.5,1807.1 714.0,1807.4 715.5,1806.8 717.0,1806.9 718.5,1806.8 720.0,1807.1 721.5,1806.5 723.0,1806.9 724.5,1807.1 726.0,1806.6 727.5,1807.0 729.0,1806.8 730.5,1806.5 732.0,1806.7 733.5,1806.4 735.0,1806.6 736.5,1807.1 738.0,1806.6 739.5,1807.2 741.0,1806.8 742.5,1807.1 744.0,1807.0 745.5,1806.5 747.0,1806.8 748.5,1806.9 750.0,1806.8 751.5,1806.8 753.0,1807.0 754.5,1806.7 756.1,1806.4 757.6,1806.6 759.1,1806.9 760.6,1806.7 762.1,1807.0 763.6,1807.1 765.1,1806.6 766.6,1806.5 768.1,1806.4 769.6,1806.7 771.1,1806.9 772.6,1806.8 774.1,1806.8 775.6,1806.7 777.1,1806.8 778.6,1806.7 780.1,1806.8 781.6,1806.7 783.1,1806.7 784.6,1807.0 786.1,1806.9 787.6,1806.9 789.1,1807.3 790.6,1807.2 792.1,1807.8 793.6,1807.5 795.1,1807.1 796.6,1807.4 798.1,1807.4 799.6,1807.1 801.1,1807.6 802.6,1807.2 804.1,1806.6 805.6,1807.4 807.1,1807.1 808.6,1807.5 810.1,1806.9 811.6,1806.7 813.1,1807.3 814.6,1806.7 816.1,1807.0 817.6,1807.2 819.1,1806.9 820.6,1806.8 822.1,1806.9 823.6,1807.1 825.1,1806.8 826.6,1807.1 828.1,1807.1 829.6,1807.4 831.1,1806.7 832.6,1806.7 834.1,1807.1 835.6,1806.8 837.1,1806.9 838.6,1806.8 840.1,1807.0 841.6,1806.7 843.1,1806.8 844.6,1806.5 846.1,1806.8 847.6,1807.4 849.1,1806.9 850.6,1807.0 852.1,1806.9 853.6,1807.4 855.1,1807.2 856.6,1806.9 858.1,1807.1 859.6,1806.9 861.1,1807.1 862.6,1806.8 864.1,1807.2 865.6,1806.9 867.1,1806.8 868.6,1806.7 870.1,1806.8 871.6,1807.1 873.1,1806.9 874.6,1807.0 876.1,1806.9 877.6,1807.1 879.1,1807.1 880.6,1806.8 882.1,1806.5 883.6,1806.9 885.1,1807.0 886.6,1807.0 888.1,1807.3 889.6,1807.1 891.1,1807.1 892.6,1807.0 894.1,1807.5 895.6,1807.3 897.1,1807.2 898.6,1807.0 900.1,1807.1 901.6,1807.4 903.1,1807.2 904.6,1806.9 906.1,1807.3 907.6,1807.3 909.1,1807.1 910.6,1807.1 912.2,1807.0 913.7,1806.9 915.2,1806.9 916.7,1806.5 918.2,1807.0 919.7,1806.7 921.2,1807.0 922.7,1806.1 924.2,1806.8 925.7,1806.9 927.2,1806.6 928.7,1806.8 930.2,1806.9 931.7,1806.9 933.2,1806.6 934.7,1806.7 936.2,1807.1 937.7,1807.0 939.2,1806.8 940.7,1806.8 942.2,1806.9 943.7,1807.1 945.2,1806.7 946.7,1806.6 948.2,1807.0 949.7,1806.7 951.2,1806.8 952.7,1807.0 954.2,1807.1 955.7,1806.8 957.2,1807.2 958.7,1806.6 960.2,1807.2 961.7,1806.8 963.2,1806.8 964.7,1807.1 966.2,1806.9 967.7,1806.8 969.2,1806.8 970.7,1806.9 972.2,1806.8 973.7,1806.8 975.2,1807.0 976.7,1806.7 978.2,1806.8 979.7,1806.7 981.2,1807.0 982.7,1807.0 984.2,1807.1 985.7,1806.8 987.2,1806.7 988.7,1806.9 990.2,1806.7 991.7,1807.0 993.2,1807.0 994.7,1806.7 996.2,1806.9 997.7,1807.0 999.2,1807.3 1000.7,1807.6 1002.2,1807.0 1003.7,1807.0 1005.2,1806.5 1006.7,1807.0 1008.2,1806.9 1009.7,1806.6 1011.2,1806.9 1012.7,1806.5 1014.2,1806.8 1015.7,1806.8 1017.2,1806.6 1018.7,1807.1 1020.2,1807.1 1021.7,1806.5 1023.2,1806.6 1024.7,1807.0 1026.2,1806.7 1027.7,1806.5 1029.2,1806.8 1030.7,1806.8 1032.2,1806.8 1033.7,1807.0 1035.2,1807.0 1036.7,1807.3 1038.2,1807.2 1039.7,1807.1 1041.2,1807.1 1042.7,1807.0 1044.2,1806.9 1045.7,1806.6 1047.2,1807.0 1048.7,1806.7 1050.2,1807.0 1051.7,1806.8 1053.2,1806.9 1054.7,1806.9 1056.2,1807.2 1057.7,1806.8 1059.2,1806.7 1060.7,1806.8 1062.2,1806.6 1063.7,1806.7 1065.2,1806.7 1066.7,1806.7 1068.2,1807.1 1069.8,1806.6 1071.3,1806.7 1072.8,1806.7 1074.3,1807.1 1075.8,1806.7 1077.3,1806.9 1078.8,1807.1 1080.3,1807.2 1081.8,1807.1 1083.3,1807.0 1084.8,1806.9 1086.3,1807.1 1087.8,1807.2 1089.3,1807.0 1090.8,1807.0 1092.3,1807.0 1093.8,1806.7 1095.3,1806.8 1096.8,1806.7 1098.3,1806.9 1099.8,1806.8 1101.3,1806.5 1102.8,1806.9 1104.3,1807.2 1105.8,1806.8 1107.3,1806.9 1108.8,1806.9 1110.3,1807.1 1111.8,1806.7 1113.3,1807.5 1114.8,1807.0 1116.3,1807.4 1117.8,1807.0 1119.3,1806.9 1120.8,1806.9 1122.3,1807.2 1123.8,1806.7 1125.3,1806.7 1126.8,1806.7 1128.3,1806.4 1129.8,1807.2 1131.3,1807.0 1132.8,1806.9 1134.3,1807.1 1135.8,1806.6 1137.3,1806.9 1138.8,1807.2 1140.3,1807.1 1141.8,1806.4 1143.3,1806.0 1144.8,1806.6 1146.3,1807.2 1147.8,1806.9 1149.3,1806.9 1150.8,1807.1 1152.3,1806.7 1153.8,1806.9 1155.3,1807.0 1156.8,1807.0 1158.3,1807.0 1159.8,1806.7 1161.3,1806.8 1162.8,1806.6 1164.3,1807.1 1165.8,1807.3 1167.3,1806.6 1168.8,1806.3 1170.3,1806.6 1171.8,1806.7 1173.3,1806.9 1174.8,1806.9 1176.3,1806.7 1177.8,1806.6 1179.3,1807.1 1180.8,1806.6 1182.3,1807.1 1183.8,1806.9 1185.3,1807.1 1186.8,1807.1 1188.3,1807.1 1189.8,1807.0 1191.3,1806.7 1192.8,1807.0 1194.3,1806.9 1195.8,1806.9 1197.3,1807.1 1198.8,1807.0 1200.3,1806.8 1201.8,1806.7 1203.3,1806.9 1204.8,1807.1 1206.3,1806.8 1207.8,1807.2 1209.3,1807.0 1210.8,1806.9 1212.3,1806.6 1213.8,1807.1 1215.3,1807.2 1216.8,1806.6 1218.3,1807.2 1219.8,1807.3 1221.3,1807.0 1222.8,1806.9 1224.3,1807.3 1225.9,1807.0 1227.4,1806.5 1228.9,1806.6 1230.4,1806.6 1231.9,1806.7 1233.4,1806.2 1234.9,1806.9 1236.4,1806.7 1237.9,1806.9 1239.4,1806.9 1240.9,1807.0 1242.4,1806.8 1243.9,1806.5 1245.4,1806.8 1246.9,1807.0 1248.4,1806.6 1249.9,1807.0 1251.4,1806.6 1252.9,1806.5 1254.4,1807.0 1255.9,1806.5 1257.4,1806.9 1258.9,1806.6 1260.4,1806.8 1261.9,1806.4 1263.4,1806.6 1264.9,1807.0 1266.4,1806.9 1267.9,1806.8 1269.4,1806.8 1270.9,1807.1 1272.4,1806.8 1273.9,1806.8 1275.4,1807.1 1276.9,1806.9 1278.4,1806.9 1279.9,1807.0 1281.4,1807.0 1282.9,1807.0 1284.4,1807.3 1285.9,1807.1 1287.4,1807.1 1288.9,1806.8 1290.4,1806.7 1291.9,1806.7 1293.4,1806.8 1294.9,1806.5 1296.4,1806.9 1297.9,1807.2 1299.4,1807.4 1300.9,1807.3 1302.4,1806.9 1303.9,1807.2 1305.4,1806.8 1306.9,1807.2 1308.4,1807.0 1309.9,1807.1 1311.4,1807.3 1312.9,1807.0 1314.4,1807.3 1315.9,1806.9 1317.4,1806.8 1318.9,1807.1 1320.4,1807.1 1321.9,1806.7 1323.4,1806.9 1324.9,1806.6 1326.4,1806.9 1327.9,1807.1 1329.4,1806.9 1330.9,1806.7 1332.4,1806.7 1333.9,1807.1 1335.4,1807.2 1336.9,1807.1 1338.4,1806.9 1339.9,1806.7 1341.4,1807.3 1342.9,1806.9 1344.4,1806.9 1345.9,1807.0 1347.4,1806.4 1348.9,1806.8 1350.4,1806.8 1351.9,1807.0 1353.4,1807.0 1354.9,1806.9 1356.4,1806.5 1357.9,1806.7 1359.4,1806.9 1360.9,1806.9 1362.4,1806.7 1363.9,1806.6 1365.4,1807.1 1366.9,1807.1 1368.4,1807.0 1369.9,1806.6 1371.4,1807.4 1372.9,1806.4 1374.4,1806.9 1375.9,1807.2 1377.4,1806.8 1378.9,1806.8 1380.4,1806.5 1382.0,1807.1 1383.5,1806.5 1385.0,1806.9 1386.5,1806.8 1388.0,1806.7 1389.5,1807.2 1391.0,1806.7 1392.5,1806.9 1394.0,1807.0 1395.5,1806.9 1397.0,1807.1 1398.5,1807.1 1400.0,1806.9 1401.5,1806.8 1403.0,1806.8 1404.5,1806.9 1406.0,1807.3 1407.5,1807.0 1409.0,1807.2 1410.5,1807.2 1412.0,1807.1 1413.5,1807.4 1415.0,1807.1 1416.5,1807.3 1418.0,1807.5 1419.5,1806.9 1421.0,1807.1 1422.5,1806.8 1424.0,1807.0 1425.5,1806.8 1427.0,1807.0 1428.5,1807.0 1430.0,1807.1 1431.5,1807.4 1433.0,1807.1 1434.5,1807.2 1436.0,1807.0 1437.5,1806.9 1439.0,1806.8 1440.5,1806.5 1442.0,1806.9 1443.5,1807.3 1445.0,1807.0 1446.5,1806.8 1448.0,1807.2 1449.5,1806.9 1451.0,1806.7 1452.5,1806.6 1454.0,1806.7 1455.5,1806.7 1457.0,1807.3 1458.5,1806.8 1460.0,1806.7 1461.5,1806.7 1463.0,1806.8 1464.5,1806.5 1466.0,1806.9 1467.5,1807.1 1469.0,1806.9 1470.5,1806.8 1472.0,1806.4 1473.5,1806.3 1475.0,1806.9 1476.5,1806.9 1478.0,1806.3 1479.5,1806.7 1481.0,1806.7 1482.5,1807.0 1484.0,1807.0 1485.5,1806.9 1487.0,1807.2 1488.5,1807.2 1490.0,1807.2 1491.5,1806.7 1493.0,1806.4 1494.5,1806.8 1496.0,1806.5 1497.5,1806.9 1499.0,1806.9 1500.5,1806.8 1502.0,1806.6 1503.5,1806.7 1505.0,1807.0 1506.5,1806.6 1508.0,1806.9 1509.5,1807.0 1511.0,1806.8 1512.5,1807.1 1514.0,1806.6 1515.5,1807.0 1517.0,1806.6 1518.5,1806.6 1520.0,1806.7 1521.5,1807.0 1523.0,1806.6 1524.5,1806.9 1526.0,1806.7 1527.5,1807.2 1529.0,1807.4 1530.5,1807.1 1532.0,1807.4 1533.5,1807.1 1535.0,1807.5 1536.5,1807.2 1538.0,1806.8 1539.6,1807.4 1541.1,1807.1 1542.6,1806.8 1544.1,1806.9 1545.6,1806.8 1547.1,1807.0 1548.6,1806.8 1550.1,1807.2 1551.6,1807.0 1553.1,1806.5 1554.6,1806.6 1556.1,1806.9 1557.6,1806.6 1559.1,1806.8 1560.6,1807.0 1562.1,1806.9 1563.6,1807.0 1565.1,1807.2 1566.6,1807.4 1568.1,1807.4 1569.6,1807.1 1571.1,1807.3 1572.6,1807.0 1574.1,1807.1 1575.6,1806.6 1577.1,1807.0 1578.6,1806.6 1580.1,1806.7 1581.6,1807.1 1583.1,1807.1 1584.6,1806.6 1586.1,1806.9 1587.6,1807.1 1589.1,1807.2 1590.6,1807.0 1592.1,1807.2 1593.6,1807.1 1595.1,1807.4 1596.6,1807.2 1598.1,1806.8 1599.6,1806.6 1601.1,1807.0 1602.6,1807.2 1604.1,1807.0 1605.6,1807.1 1607.1,1806.8 1608.6,1806.7 1610.1,1807.2 1611.6,1807.0 1613.1,1807.2 1614.6,1806.8 1616.1,1807.1 1617.6,1806.9 1619.1,1807.1 1620.6,1806.7 1622.1,1806.7 1623.6,1806.6 1625.1,1807.0 1626.6,1806.7 1628.1,1806.5 1629.6,1806.5 1631.1,1806.5 1632.6,1807.1 1634.1,1806.4 1635.6,1806.7 1637.1,1807.0 1638.6,1807.1 1640.1,1806.9 1641.6,1807.1 1643.1,1807.1 1644.6,1807.2 1646.1,1807.0 1647.6,1807.3 1649.1,1807.0 1650.6,1807.3 1652.1,1806.7 1653.6,1807.1 1655.1,1806.6 1656.6,1806.7 1658.1,1807.0 1659.6,1806.7 1661.1,1807.0 1662.6,1806.7 1664.1,1807.3 1665.6,1806.9 1667.1,1806.6 1668.6,1806.8 1670.1,1806.9 1671.6,1806.7 1673.1,1806.9 1674.6,1807.1 1676.1,1806.9 1677.6,1806.8 1679.1,1806.7 1680.6,1807.1 1682.1,1806.7 1683.6,1806.4 1685.1,1806.9 1686.6,1806.9 1688.1,1807.5 1689.6,1807.1 1691.1,1806.8 1692.6,1806.7 1694.1,1807.1 1695.7,1806.8 1697.2,1806.9 1698.7,1807.0 1700.2,1807.0 1701.7,1807.0 1703.2,1806.9 1704.7,1807.2 1706.2,1807.4 1707.7,1806.6 1709.2,1807.6 1710.7,1807.0 1712.2,1807.4 1713.7,1807.0 1715.2,1807.3 1716.7,1807.3 1718.2,1807.2 1719.7,1807.4 1721.2,1807.3 1722.7,1806.9 1724.2,1807.1 1725.7,1807.2 1727.2,1807.2 1728.7,1806.9 1730.2,1807.0 1731.7,1807.0 1733.2,1806.7 1734.7,1806.6 1736.2,1807.3 1737.7,1806.9 1739.2,1807.0 1740.7,1806.7 1742.2,1807.0 1743.7,1807.1 1745.2,1806.7 1746.7,1806.7 1748.2,1806.5 1749.7,1807.0 1751.2,1806.8 1752.7,1806.4 1754.2,1807.0 1755.7,1806.9 1757.2,1806.9 1758.7,1806.9 1760.2,1806.7 1761.7,1806.8 1763.2,1807.0 1764.7,1806.9 1766.2,1806.8 1767.7,1807.5 1769.2,1806.9 1770.7,1806.8 1772.2,1806.9 1773.7,1807.1 1775.2,1807.2 1776.7,1806.9 1778.2,1807.1 1779.7,1806.5 1781.2,1806.7 1782.7,1806.7 1784.2,1806.9 1785.7,1807.0 1787.2,1806.5 1788.7,1807.5 1790.2,1806.7 1791.7,1806.9 1793.2,1807.1 1794.7,1807.1 1796.2,1806.9 1797.7,1806.2 1799.2,1806.5 1800.7,1806.9 1802.2,1806.6 1803.7,1806.5 1805.2,1806.4 1806.7,1807.0 1808.2,1806.8 1809.7,1806.5 1811.2,1806.7 1812.7,1806.7 1814.2,1806.6 1815.7,1806.8 1817.2,1806.9 1818.7,1806.9 1820.2,1807.1 1821.7,1806.9 1823.2,1806.8 1824.7,1807.1 1826.2,1806.8 1827.7,1806.6 1829.2,1807.1 1830.7,1806.9 1832.2,1807.0 1833.7,1807.1 1835.2,1806.8 1836.7,1807.0 1838.2,1806.9 1839.7,1806.8 1841.2,1806.9 1842.7,1806.6 1844.2,1806.4 1845.7,1806.8 1847.2,1806.6 1848.7,1806.9 1850.2,1806.8 1851.8,1806.6 1853.3,1806.7 1854.8,1807.0 1856.3,1806.9 1857.8,1806.7 1859.3,1806.8 1860.8,1806.7 1862.3,1806.7 1863.8,1807.0 1865.3,1806.9 1866.8,1806.9 1868.3,1806.8 1869.8,1806.7 1871.3,1806.7 1872.8,1806.9 1874.3,1807.3 1875.8,1807.2 1877.3,1806.7 1878.8,1806.6 1880.3,1807.1 1881.8,1806.9 1883.3,1806.5 1884.8,1807.1 1886.3,1806.9 1887.8,1807.2 1889.3,1807.0 1890.8,1807.2 1892.3,1807.1 1893.8,1806.9 1895.3,1807.1 1896.8,1807.0 1898.3,1807.2 1899.8,1806.9 1901.3,1806.7 1902.8,1807.3 1904.3,1807.3 1905.8,1807.2 1907.3,1807.1 1908.8,1806.5 1910.3,1806.7 1911.8,1806.9 1913.3,1806.9 1914.8,1806.4 1916.3,1806.8 1917.8,1806.9 1919.3,1806.7 1920.8,1806.9 1922.3,1807.2 1923.8,1806.9 1925.3,1807.2 1926.8,1807.1 1928.3,1807.0 1929.8,1807.1 1931.3,1806.8 1932.8,1807.1 1934.3,1806.8 1935.8,1806.7 1937.3,1807.0 1938.8,1806.7 1940.3,1806.9 1941.8,1807.0 1943.3,1806.8 1944.8,1806.9 1946.3,1807.1 1947.8,1807.2 1949.3,1806.7 1950.8,1806.7 1952.3,1807.2 1953.8,1807.0 1955.3,1806.6 1956.8,1806.7 1958.3,1807.0 1959.8,1806.7 1961.3,1806.9 1962.8,1806.9 1964.3,1806.9 1965.8,1806.5 1967.3,1807.0 1968.8,1807.3 1970.3,1806.7 1971.8,1807.0 1973.3,1807.1 1974.8,1806.9 1976.3,1806.8 1977.8,1806.6 1979.3,1806.7 1980.8,1806.9 1982.3,1806.9 1983.8,1807.0 1985.3,1807.0 1986.8,1806.9 1988.3,1806.8 1989.8,1806.6 1991.3,1806.9 1992.8,1807.0 1994.3,1806.9 1995.8,1806.6 1997.3,1806.7 1998.8,1806.5 2000.3,1806.7 2001.8,1806.4 2003.3,1806.6 2004.8,1806.6 2006.3,1806.6 2007.8,1807.0 2009.4,1806.5 2010.9,1806.3 2012.4,1807.0 2013.9,1807.2 2015.4,1807.3 2016.9,1807.1 2018.4,1807.2 2019.9,1807.2 2021.4,1806.7 2022.9,1806.9 2024.4,1807.0 2025.9,1806.8 2027.4,1807.3 2028.9,1806.7 2030.4,1806.8 2031.9,1807.1 2033.4,1806.7 2034.9,1806.6 2036.4,1806.5 2037.9,1806.7 2039.4,1807.1 2040.9,1806.9 2042.4,1806.9 2043.9,1806.8 2045.4,1807.1 2046.9,1806.9 2048.4,1806.7 2049.9,1806.9 2051.4,1807.0 2052.9,1807.2 2054.4,1806.9 2055.9,1807.0 2057.4,1807.3 2058.9,1806.7 2060.4,1806.7 2061.9,1807.1 2063.4,1807.0 2064.9,1806.8 2066.4,1806.9 2067.9,1806.9 2069.4,1807.1 2070.9,1806.9 2072.4,1807.1 2073.9,1806.7 2075.4,1806.7 2076.9,1806.8 2078.4,1806.7 2079.9,1806.9 2081.4,1806.7 2082.9,1806.7 2084.4,1806.8 2085.9,1806.7 2087.4,1806.6 2088.9,1806.6 2090.4,1806.8 2091.9,1806.9 2093.4,1807.1 2094.9,1807.4 2096.4,1807.2 2097.9,1807.5 2099.4,1807.4 2100.9,1807.0 2102.4,1807.4 2103.9,1807.2 2105.4,1806.8 2106.9,1806.9 2108.4,1807.0 2109.9,1806.9 2111.4,1807.0 2112.9,1806.8 2114.4,1806.8 2115.9,1806.6 2117.4,1806.9 2118.9,1806.7 2120.4,1806.9 2121.9,1806.4 2123.4,1806.8 2124.9,1807.0 2126.4,1806.9 2127.9,1806.9 2129.4,1806.9 2130.9,1806.5 2132.4,1806.6 2133.9,1806.6 2135.4,1806.7 2136.9,1807.0 2138.4,1806.5 2139.9,1806.9 2141.4,1806.4 2142.9,1806.6 2144.4,1806.8 2145.9,1807.1 2147.4,1806.8 2148.9,1806.5 2150.4,1807.1 2151.9,1807.0 2153.4,1806.7 2154.9,1806.8 2156.4,1806.8 2157.9,1807.0 2159.4,1807.1 2160.9,1806.7 2162.4,1807.4 2163.9,1806.9 2165.5,1806.8 2167.0,1807.1 2168.5,1807.0 2170.0,1807.5 2171.5,1807.3 2173.0,1807.0 2174.5,1806.9 2176.0,1806.9 2177.5,1807.0 2179.0,1807.3 2180.5,1806.9 2182.0,1807.4 2183.5,1807.1 2185.0,1807.0 2186.5,1807.3 2188.0,1806.7 2189.5,1806.9 2191.0,1807.1 2192.5,1806.9 2194.0,1806.9 2195.5,1807.1 2197.0,1806.8 2198.5,1806.9 2200.0,1806.6 2201.5,1806.3 2203.0,1807.0 2204.5,1806.5 2206.0,1806.6 2207.5,1807.1 2209.0,1807.0 2210.5,1806.7 2212.0,1806.6 2213.5,1806.8 2215.0,1806.6 2216.5,1806.9 2218.0,1806.8 2219.5,1806.8 2221.0,1806.9 2222.5,1806.8 2224.0,1807.0 2225.5,1807.1 2227.0,1806.5 2228.5,1807.0 2230.0,1806.6 2231.5,1806.5 2233.0,1807.1 2234.5,1806.9 2236.0,1806.9 2237.5,1807.2 2239.0,1806.7 2240.5,1806.6 2242.0,1807.0 2243.5,1806.9" fill="none" stroke="#7400EC" stroke-width="7.5" stroke-linejoin="round" stroke-linecap="butt"/>
<polyline points="276.9,2505.2 278.4,2505.3 279.9,2506.4 281.4,2505.9 282.9,2504.5 284.4,2505.2 285.9,2505.0 287.5,2505.7 289.0,2504.6 290.5,2505.3 292.0,2505.3 293.5,2506.0 295.0,2505.5 296.5,2505.8 298.0,2504.8 299.5,2506.5 301.0,2504.1 302.5,2505.8 304.0,2505.2 305.6,2504.8 307.1,2504.8 308.6,2504.5 310.1,2505.0 311.6,2504.7 313.1,2505.4 314.6,2503.8 316.1,2504.7 317.6,2504.3 319.1,2504.9 320.6,2503.3 322.1,2504.2 323.6,2504.5 325.2,2503.6 326.7,2504.8 328.2,2504.5 329.7,2504.9 331.2,2504.7 332.7,2503.9 334.2,2504.1 335.7,2504.6 337.2,2504.9 338.7,2505.1 340.2,2504.3 341.7,2504.1 343.3,2503.9 344.8,2504.3 346.3,2504.3 347.8,2504.3 349.3,2505.5 350.8,2504.3 352.3,2504.3 353.8,2504.7 355.3,2504.2 356.8,2504.5 358.3,2504.5 359.8,2505.0 361.3,2503.8 362.9,2505.1 364.4,2504.2 365.9,2504.5 367.4,2504.8 368.9,2504.6 370.4,2504.8 371.9,2504.3 373.4,2504.0 374.9,2504.2 376.4,2503.6 377.9,2504.7 379.4,2503.6 381.0,2503.4 382.5,2505.1 384.0,2503.9 385.5,2503.5 387.0,2505.1 388.5,2503.9 390.0,2504.5 391.5,2502.7 393.1,2502.0 394.6,2500.3 396.1,2499.0 397.7,2498.9 399.2,2498.8 400.8,2498.7 402.3,2499.1 403.9,2490.8 405.4,2487.0 406.9,2480.4 408.5,2475.1 410.1,2474.3 411.8,2474.6 413.4,2475.0 415.1,2474.9 416.8,2475.8 418.4,2475.2 420.0,2469.3 421.7,2461.0 423.3,2453.7 425.1,2442.0 427.0,2428.5 429.5,2421.9 431.4,2427.9 433.2,2434.3 435.0,2447.6 436.9,2459.4 438.4,2464.7 439.9,2470.6 441.5,2475.0 443.0,2481.7 444.6,2482.2 446.1,2486.1 447.6,2486.8 449.2,2489.0 450.8,2487.6 452.3,2485.2 453.8,2483.3 455.4,2482.7 457.1,2479.0 458.8,2474.8 460.6,2473.1 462.3,2468.5 464.0,2468.3 465.6,2452.2 467.3,2437.7 468.9,2424.6 470.8,2409.2 472.6,2392.2 475.1,2349.6 477.5,2300.9 480.0,2277.1 482.5,2268.9 485.0,2275.4 487.4,2300.7 489.9,2361.3 492.3,2423.4 494.1,2447.9 496.0,2471.3 497.7,2477.7 499.3,2482.2 501.0,2490.3 502.5,2492.6 504.1,2491.5 505.6,2494.4 507.1,2494.7 508.7,2494.9 510.2,2495.7 511.8,2496.3 513.3,2496.3 514.8,2497.1 516.4,2497.5 517.9,2498.2 519.5,2498.6 521.0,2497.8 522.5,2499.2 524.1,2498.2 525.6,2499.0 527.1,2499.2 528.7,2498.6 530.2,2498.5 531.8,2498.5 533.4,2497.5 534.9,2497.1 536.5,2496.8 538.0,2497.5 539.9,2493.6 541.7,2492.3 543.5,2487.8 545.4,2482.3 547.0,2477.0 548.7,2471.4 550.3,2462.8 551.8,2453.0 553.4,2442.5 555.0,2434.2 556.5,2424.0 558.4,2407.9 560.2,2391.8 562.0,2383.5 563.9,2373.7 565.8,2381.2 567.6,2391.8 569.5,2407.0 571.3,2422.4 573.7,2460.3 575.5,2475.1 577.4,2488.4 579.0,2493.3 580.7,2494.8 582.3,2495.5 584.0,2497.1 585.6,2499.1 587.3,2499.6 588.9,2500.9 590.5,2501.0 592.1,2501.1 593.6,2501.0 595.2,2501.3 596.8,2502.7 598.4,2503.0 600.0,2503.0 601.6,2502.6 603.2,2501.7 604.7,2502.4 606.3,2502.8 607.9,2500.6 609.5,2502.3 611.0,2500.0 612.6,2501.2 614.2,2501.4 615.8,2499.9 617.4,2500.1 618.9,2501.3 620.5,2501.8 622.1,2501.2 623.7,2502.2 625.2,2500.5 626.8,2502.3 628.4,2500.9 630.0,2500.0 631.5,2499.1 633.1,2497.7 634.7,2497.5 636.2,2496.3 637.8,2493.8 639.4,2492.3 640.9,2490.0 642.5,2489.7 644.3,2492.4 646.0,2494.2 647.8,2496.5 649.5,2498.5 651.3,2501.0 652.8,2499.9 654.4,2499.9 655.9,2501.5 657.4,2501.1 659.0,2500.2 660.5,2501.6 662.0,2500.4 663.6,2501.1 665.1,2499.9 666.6,2501.9 668.2,2501.3 669.7,2502.2 671.2,2501.9 672.8,2501.5 674.3,2501.8 675.8,2502.3 677.3,2501.4 678.9,2501.9 680.4,2502.1 681.9,2503.0 683.5,2503.3 685.0,2503.9 686.5,2503.1 688.1,2504.0 689.6,2503.3 691.1,2504.0 692.7,2503.6 694.2,2504.4 695.7,2503.8 697.3,2503.3 698.8,2504.1 700.3,2503.8 701.8,2503.1 703.3,2503.0 704.8,2502.6 706.3,2504.5 707.8,2503.3 709.3,2503.6 710.8,2502.6 712.3,2502.5 713.8,2503.0 715.3,2503.3 716.8,2503.8 718.3,2502.9 719.8,2503.6 721.3,2504.2 722.8,2503.1 724.3,2503.9 725.8,2503.1 727.3,2503.7 728.8,2503.6 730.3,2504.3 731.8,2503.2 733.3,2503.6 734.8,2504.1 736.3,2503.0 737.8,2503.6 739.3,2503.2 740.8,2503.2 742.3,2504.0 743.9,2504.0 745.4,2504.9 746.9,2504.2 748.4,2504.1 749.9,2503.4 751.4,2503.3 752.9,2503.4 754.4,2502.2 755.9,2503.9 757.4,2502.6 758.9,2502.3 760.4,2502.7 761.9,2503.4 763.4,2503.4 764.9,2502.6 766.4,2502.8 767.9,2502.7 769.4,2502.2 770.9,2502.9 772.4,2503.0 773.9,2502.2 775.4,2503.4 776.9,2502.3 778.4,2503.4 779.9,2502.7 781.4,2502.7 782.9,2502.9 784.4,2503.8 785.9,2502.2 787.4,2502.9 788.9,2503.8 790.4,2502.2 791.9,2502.7 793.4,2503.2 794.9,2502.4 796.4,2502.9 797.9,2502.2 799.4,2503.4 800.9,2502.7 802.4,2502.4 803.9,2503.7 805.4,2502.6 806.9,2502.2 808.4,2501.8 809.9,2502.3 811.4,2502.4 812.9,2502.5 814.4,2503.1 815.9,2501.8 817.4,2502.4 818.9,2503.3 820.4,2502.9 821.9,2503.0 823.4,2503.6 824.9,2502.7 826.4,2502.7 827.9,2502.2 829.4,2503.0 830.9,2502.6 832.5,2501.6 834.0,2502.5 835.5,2501.4 837.0,2502.8 838.5,2502.8 840.0,2502.2 841.5,2502.3 843.0,2501.7 844.5,2503.4 846.0,2502.9 847.5,2502.7 849.0,2503.1 850.5,2502.2 852.0,2502.1 853.5,2502.1 855.0,2501.7 856.5,2503.9 858.0,2501.9 859.5,2501.7 861.0,2502.4 862.5,2500.0 864.0,2502.2 865.5,2502.0 867.0,2501.5 868.5,2502.2 870.0,2500.7 871.5,2502.3 873.0,2503.0 874.5,2500.9 876.0,2501.2 878.0,2502.0 880.0,2502.4 881.5,2501.8 883.1,2502.4 884.6,2502.1 886.1,2500.7 887.6,2501.5 889.2,2500.9 890.7,2500.4 892.2,2499.9 893.7,2502.1 895.3,2501.2 896.8,2502.5 898.3,2500.2 899.8,2500.8 901.4,2501.3 902.9,2500.9 904.4,2500.9 906.0,2500.7 907.5,2500.4 909.0,2499.2 910.5,2499.9 912.1,2501.7 913.6,2501.0 915.1,2501.1 916.6,2499.3 918.2,2499.5 919.7,2498.9 921.2,2499.1 922.7,2498.5 924.3,2498.8 925.8,2499.8 927.3,2497.9 928.9,2498.9 930.4,2497.5 931.9,2499.6 933.4,2498.5 935.0,2498.9 936.5,2498.9 938.0,2500.0 939.5,2498.6 941.1,2498.1 942.6,2497.5 944.1,2498.8 945.6,2497.6 947.2,2497.5 948.7,2497.6 950.2,2498.3 951.8,2497.3 953.3,2498.2 954.8,2499.3 956.3,2496.6 957.9,2498.6 959.4,2499.3 960.9,2497.5 962.4,2498.5 964.0,2497.1 965.5,2498.3 967.0,2496.2 968.6,2495.0 970.1,2492.6 971.6,2491.5 973.2,2490.4 974.7,2488.5 976.2,2488.9 977.8,2488.9 979.3,2487.8 980.8,2488.7 982.3,2488.9 983.9,2486.2 985.4,2488.4 986.9,2487.3 988.4,2486.6 990.0,2485.9 991.5,2486.2 993.0,2486.3 994.5,2487.4 996.1,2486.0 997.6,2488.0 999.1,2485.9 1000.6,2485.8 1002.2,2484.8 1003.7,2481.0 1005.2,2481.8 1006.7,2483.2 1008.2,2479.9 1009.8,2481.0 1011.3,2480.4 1012.8,2480.5 1014.3,2480.6 1015.9,2480.3 1017.4,2481.5 1018.9,2482.2 1020.4,2480.8 1022.0,2482.6 1023.5,2481.7 1025.0,2480.8 1026.5,2478.3 1028.1,2480.4 1029.6,2478.9 1031.1,2474.3 1032.7,2474.1 1034.2,2474.1 1035.7,2475.3 1037.2,2475.2 1038.8,2473.3 1040.3,2472.7 1041.8,2471.3 1043.3,2466.9 1044.9,2467.4 1046.4,2464.8 1047.9,2463.6 1049.4,2460.3 1051.0,2455.5 1052.5,2452.1 1054.0,2452.8 1055.6,2451.3 1057.1,2450.2 1058.6,2450.4 1060.2,2447.1 1061.7,2444.6 1063.2,2444.1 1064.7,2443.1 1066.3,2442.4 1067.8,2442.8 1069.3,2442.2 1070.8,2442.6 1072.4,2442.3 1073.9,2440.6 1075.4,2442.1 1076.9,2438.0 1078.4,2436.3 1080.0,2431.4 1081.5,2430.3 1083.0,2426.4 1084.5,2427.6 1086.1,2429.3 1087.6,2430.2 1089.1,2428.4 1090.7,2426.0 1092.2,2426.9 1093.7,2425.8 1095.2,2424.3 1096.8,2425.8 1098.3,2424.7 1099.8,2423.5 1101.4,2426.1 1102.9,2421.9 1104.4,2421.2 1105.9,2422.1 1107.5,2418.9 1109.0,2417.5 1110.5,2415.1 1112.1,2415.1 1113.6,2412.7 1115.1,2409.6 1116.7,2405.2 1118.2,2402.0 1119.7,2401.4 1121.2,2394.1 1122.8,2392.7 1124.3,2386.6 1125.8,2384.8 1127.3,2381.2 1129.1,2373.2 1130.9,2355.1 1132.7,2352.7 1134.3,2347.5 1135.8,2348.9 1137.4,2348.7 1139.0,2344.8 1140.6,2345.0 1142.1,2344.9 1143.7,2342.8 1145.4,2339.2 1147.0,2337.2 1148.7,2334.0 1150.3,2328.3 1152.0,2331.4 1153.6,2327.3 1155.2,2319.1 1156.9,2320.1 1158.4,2324.4 1160.0,2323.4 1161.5,2321.1 1163.1,2317.4 1164.6,2319.4 1166.1,2321.8 1167.7,2318.4 1169.2,2316.1 1170.8,2314.4 1172.3,2317.4 1174.0,2312.5 1175.6,2310.7 1177.2,2308.1 1178.9,2307.1 1180.5,2300.8 1182.2,2298.5 1183.8,2291.8 1185.5,2295.7 1187.1,2290.6 1188.6,2285.1 1190.2,2276.2 1191.8,2276.7 1193.4,2275.0 1194.9,2275.9 1196.5,2268.5 1198.2,2261.3 1199.8,2254.2 1201.4,2247.8 1203.1,2233.6 1204.8,2227.1 1206.4,2219.6 1208.0,2215.6 1209.7,2209.1 1211.5,2206.5 1213.2,2198.9 1215.0,2196.8 1216.7,2190.1 1218.5,2192.8 1220.0,2185.8 1221.6,2191.3 1223.1,2187.1 1224.6,2178.5 1226.2,2183.3 1227.7,2181.4 1229.2,2174.0 1230.7,2178.1 1232.3,2175.3 1233.8,2173.1 1235.5,2169.7 1237.1,2169.9 1238.8,2169.5 1240.4,2166.6 1242.0,2164.0 1243.7,2164.1 1245.3,2161.5 1247.0,2164.5 1248.5,2156.0 1250.1,2165.8 1251.6,2162.4 1253.2,2163.1 1254.7,2162.9 1256.2,2156.0 1257.8,2166.4 1259.3,2155.8 1260.9,2159.4 1262.4,2158.7 1264.1,2156.3 1265.7,2147.4 1267.3,2137.5 1269.0,2136.7 1270.7,2121.6 1272.3,2118.5 1273.9,2110.3 1275.6,2106.6 1277.2,2093.5 1278.9,2082.3 1280.5,2071.0 1282.2,2061.2 1283.8,2058.7 1285.5,2057.4 1287.2,2048.8 1288.8,2049.0 1290.4,2045.9 1291.9,2048.1 1293.5,2049.2 1295.1,2043.0 1296.7,2044.1 1298.2,2044.7 1299.8,2045.8 1301.3,2043.3 1302.9,2036.8 1304.4,2031.0 1306.0,2027.4 1307.5,2033.4 1309.0,2034.3 1310.6,2028.7 1312.1,2030.9 1313.7,2022.3 1315.2,2021.2 1316.8,2028.5 1318.3,2021.9 1319.9,2027.7 1321.5,2027.2 1323.1,2027.2 1324.6,2034.7 1326.2,2027.4 1327.7,2027.8 1329.3,2021.3 1330.8,2023.0 1332.3,2023.4 1333.8,2021.5 1335.4,2021.4 1336.9,2022.0 1338.4,2016.2 1340.0,2010.2 1341.5,2014.4 1343.0,2012.1 1344.5,2003.7 1346.0,1999.6 1347.6,2004.4 1349.1,1996.6 1350.6,1992.7 1352.2,1981.1 1353.8,1967.3 1355.4,1953.9 1357.0,1952.9 1358.6,1946.3 1360.2,1941.9 1361.7,1939.7 1363.3,1935.6 1364.9,1935.2 1366.5,1925.3 1368.1,1935.6 1369.7,1922.7 1371.2,1922.2 1372.8,1924.2 1374.4,1915.8 1376.0,1917.0 1377.6,1920.0 1379.2,1909.0 1380.7,1917.9 1382.3,1916.4 1383.9,1918.2 1385.5,1921.8 1387.1,1924.7 1388.7,1930.0 1390.3,1930.0 1391.8,1930.2 1393.4,1930.0 1395.0,1934.9 1396.6,1929.2 1398.2,1933.5 1399.8,1936.4 1401.4,1933.7 1402.9,1923.9 1404.5,1925.6 1406.1,1928.1 1407.7,1927.9 1409.2,1932.2 1410.8,1925.0 1412.4,1927.5 1414.0,1929.4 1415.6,1924.3 1417.2,1926.7 1418.8,1924.4 1420.3,1923.6 1421.9,1921.3 1423.5,1920.4 1425.1,1918.9 1426.7,1912.8 1428.3,1904.4 1429.9,1907.5 1431.5,1899.2 1433.1,1899.8 1434.7,1899.0 1436.2,1890.9 1437.8,1899.6 1439.4,1895.0 1441.0,1894.7 1442.6,1897.8 1444.2,1889.5 1445.7,1888.8 1447.3,1887.1 1448.9,1886.8 1450.5,1873.2 1452.1,1873.6 1453.6,1876.8 1455.2,1867.9 1456.8,1857.5 1458.4,1870.5 1460.0,1873.0 1461.6,1879.1 1463.2,1880.3 1464.8,1901.7 1466.4,1905.5 1468.0,1907.2 1469.5,1908.6 1471.1,1912.7 1472.7,1913.6 1474.3,1910.5 1475.9,1920.2 1477.4,1921.1 1479.0,1923.4 1480.6,1913.7 1482.2,1925.7 1483.8,1926.8 1485.4,1924.5 1487.0,1932.4 1488.6,1927.5 1490.2,1932.7 1491.8,1925.5 1493.3,1918.9 1494.9,1920.3 1496.5,1911.5 1498.1,1911.2 1499.7,1907.5 1501.2,1914.2 1502.8,1918.3 1504.4,1916.5 1506.0,1905.2 1507.6,1912.6 1509.1,1911.3 1510.7,1906.2 1512.3,1898.4 1513.9,1893.7 1515.5,1896.5 1517.1,1896.4 1518.7,1899.0 1520.3,1900.2 1521.9,1891.3 1523.5,1886.8 1525.0,1890.4 1526.6,1885.6 1528.2,1893.4 1529.8,1881.9 1531.4,1893.0 1532.9,1899.9 1534.5,1899.2 1536.1,1920.1 1537.7,1927.6 1539.3,1926.3 1540.9,1926.9 1542.5,1932.7 1544.0,1938.2 1545.6,1930.3 1547.2,1939.9 1548.8,1939.5 1550.4,1940.4 1552.0,1946.2 1553.6,1950.0 1555.1,1953.0 1556.7,1958.6 1558.3,1955.6 1559.9,1966.4 1561.5,1965.6 1563.1,1961.5 1564.7,1958.2 1566.2,1965.6 1567.8,1964.9 1569.4,1971.7 1571.0,1972.6 1572.6,1976.1 1574.2,1971.0 1575.8,1973.1 1577.3,1968.5 1578.9,1968.3 1580.5,1974.4 1582.5,1973.6 1584.6,1977.8 1586.1,1980.5 1587.6,1985.5 1589.2,1989.2 1590.7,1990.4 1592.2,1990.3 1593.8,1997.4 1595.3,1995.3 1596.8,2000.4 1598.3,2004.1 1599.9,2006.1 1601.4,2000.6 1602.9,2014.9 1604.4,2012.8 1605.9,2018.2 1607.5,2022.3 1609.0,2015.4 1610.5,2018.2 1612.0,2023.5 1613.6,2027.2 1615.1,2024.4 1616.6,2027.5 1618.1,2036.6 1619.7,2033.8 1621.2,2041.1 1622.7,2045.4 1624.3,2044.3 1625.8,2050.6 1627.3,2051.7 1628.9,2050.5 1630.4,2055.5 1631.9,2058.6 1633.5,2061.2 1635.0,2063.8 1636.5,2068.2 1638.0,2071.2 1639.6,2073.6 1641.1,2074.3 1642.6,2077.7 1644.1,2080.9 1645.7,2083.6 1647.2,2092.5 1648.7,2086.5 1650.2,2096.0 1651.8,2093.6 1653.3,2099.2 1654.8,2106.9 1656.3,2105.5 1657.8,2113.7 1659.4,2109.3 1660.9,2113.7 1662.4,2114.5 1664.0,2118.0 1665.5,2118.4 1667.0,2121.3 1668.5,2124.7 1670.0,2131.1 1671.6,2130.0 1673.1,2132.2 1674.6,2134.4 1676.2,2136.6 1677.7,2137.8 1679.2,2142.7 1680.7,2149.2 1682.2,2147.2 1683.8,2157.5 1685.3,2157.3 1686.8,2160.3 1688.3,2164.5 1689.9,2172.0 1691.4,2174.7 1692.9,2178.0 1694.4,2184.7 1696.0,2189.2 1697.5,2183.6 1699.0,2193.3 1700.5,2191.8 1702.1,2193.5 1703.6,2197.8 1705.1,2205.9 1706.7,2205.4 1708.2,2208.0 1709.7,2216.3 1711.3,2215.7 1712.8,2218.7 1714.3,2225.6 1715.8,2225.3 1717.4,2225.2 1718.9,2227.1 1720.4,2232.5 1721.9,2238.0 1723.5,2243.8 1725.0,2247.2 1726.5,2247.7 1728.0,2248.1 1729.5,2255.4 1731.1,2256.8 1732.6,2255.9 1734.1,2257.1 1735.7,2262.4 1737.2,2264.8 1738.7,2268.6 1740.2,2266.4 1741.8,2274.4 1743.3,2268.3 1744.8,2274.7 1746.3,2281.1 1747.9,2283.0 1749.4,2281.6 1750.9,2287.5 1752.5,2290.3 1754.0,2292.1 1755.5,2292.8 1757.1,2301.5 1758.6,2296.3 1760.1,2303.3 1761.7,2304.2 1763.2,2307.0 1764.7,2309.9 1766.2,2314.9 1767.8,2313.2 1769.3,2317.2 1770.8,2321.0 1772.3,2321.1 1773.9,2324.4 1775.4,2326.1 1776.9,2326.7 1778.5,2329.1 1780.0,2331.9 1781.5,2335.4 1783.0,2340.6 1784.6,2342.9 1786.1,2340.4 1787.6,2341.4 1789.1,2341.8 1790.7,2340.5 1792.2,2349.6 1793.7,2349.3 1795.2,2345.6 1796.8,2350.7 1798.3,2357.2 1799.8,2354.9 1801.3,2355.9 1802.9,2357.1 1804.4,2357.2 1805.9,2357.6 1807.5,2360.3 1809.0,2363.2 1810.5,2364.5 1812.0,2366.7 1813.6,2370.3 1815.1,2369.8 1816.6,2371.7 1818.1,2369.7 1819.7,2369.9 1821.2,2377.7 1822.7,2376.9 1824.2,2379.1 1825.8,2378.0 1827.3,2376.7 1828.8,2384.1 1830.3,2379.2 1831.9,2385.2 1833.4,2385.3 1834.9,2388.4 1836.4,2391.0 1838.0,2392.6 1839.5,2389.1 1841.0,2396.2 1842.5,2392.7 1844.1,2399.1 1845.6,2399.1 1847.1,2398.8 1848.6,2399.9 1850.2,2398.7 1851.7,2401.3 1853.2,2403.5 1854.7,2402.6 1856.3,2402.5 1857.8,2404.3 1859.3,2404.0 1860.8,2407.6 1862.3,2406.0 1863.9,2404.6 1865.4,2406.4 1866.9,2406.0 1868.4,2408.8 1870.0,2408.7 1871.5,2411.1 1873.0,2411.3 1874.5,2410.8 1876.1,2412.2 1877.6,2411.4 1879.1,2412.3 1880.6,2410.1 1882.2,2413.4 1883.7,2414.9 1885.2,2420.1 1886.7,2415.0 1888.3,2418.0 1889.8,2417.8 1891.3,2416.7 1892.8,2420.1 1894.4,2420.2 1895.9,2418.8 1897.4,2417.7 1898.9,2422.6 1900.4,2420.9 1902.0,2424.5 1903.5,2423.4 1905.0,2425.8 1906.5,2426.0 1908.0,2429.9 1909.5,2429.3 1911.0,2431.5 1912.5,2430.6 1914.1,2429.5 1915.6,2430.1 1917.1,2432.7 1918.6,2434.1 1920.1,2432.6 1921.6,2437.9 1923.1,2434.3 1924.6,2435.9 1926.2,2434.9 1927.7,2433.4 1929.2,2437.7 1930.7,2438.0 1932.2,2439.4 1933.7,2437.3 1935.2,2439.3 1936.7,2439.9 1938.2,2442.1 1939.7,2440.0 1941.2,2443.8 1942.7,2445.1 1944.2,2442.9 1945.7,2443.1 1947.2,2447.0 1948.7,2446.0 1950.2,2448.2 1951.7,2448.6 1953.2,2449.3 1954.7,2447.6 1956.2,2445.3 1957.7,2449.7 1959.2,2448.0 1960.7,2450.9 1962.2,2450.6 1963.7,2454.6 1965.2,2452.4 1966.7,2454.7 1968.2,2456.4 1969.7,2455.7 1971.2,2456.5 1972.7,2457.1 1974.2,2456.5 1975.7,2459.9 1977.2,2457.4 1978.7,2457.2 1980.2,2459.2 1981.7,2460.8 1983.2,2460.9 1984.7,2461.3 1986.2,2461.2 1987.7,2459.3 1989.2,2463.0 1990.7,2464.5 1992.2,2461.7 1993.7,2460.9 1995.2,2464.3 1996.7,2463.8 1998.3,2459.6 1999.8,2464.2 2001.3,2463.6 2002.8,2464.7 2004.3,2469.0 2005.8,2468.4 2007.3,2467.1 2008.8,2468.0 2010.3,2470.4 2011.8,2467.4 2013.3,2470.1 2014.8,2468.6 2016.3,2470.8 2017.8,2470.8 2019.3,2470.0 2020.8,2473.1 2022.3,2472.5 2023.8,2474.4 2025.3,2471.9 2026.8,2473.4 2028.3,2472.9 2029.8,2475.8 2031.3,2473.7 2032.8,2475.6 2034.3,2477.5 2035.8,2477.3 2037.3,2477.5 2038.8,2478.6 2040.3,2478.8 2041.9,2479.5 2043.4,2478.9 2044.9,2477.3 2046.4,2480.7 2047.9,2478.2 2049.4,2481.8 2050.9,2480.0 2052.4,2483.4 2053.9,2482.1 2055.4,2481.8 2056.9,2482.2 2058.4,2480.1 2059.9,2482.3 2061.4,2482.2 2062.9,2483.1 2064.4,2481.5 2065.9,2481.7 2067.4,2484.3 2068.9,2483.9 2070.4,2484.0 2071.9,2484.7 2073.4,2484.4 2074.9,2484.8 2076.4,2485.9 2077.9,2484.8 2079.4,2485.9 2080.9,2485.4 2082.4,2484.7 2083.9,2485.9 2085.5,2486.6 2087.0,2486.0 2088.5,2487.0 2090.0,2487.7 2091.5,2490.2 2093.0,2490.5 2094.5,2490.7 2096.0,2489.4 2097.5,2491.1 2099.0,2492.5 2100.5,2491.6 2102.0,2491.6 2103.5,2490.8 2105.0,2492.4 2106.5,2491.7 2108.0,2492.6 2109.5,2491.7 2111.0,2493.9 2112.5,2491.8 2114.0,2490.6 2115.5,2491.9 2117.0,2492.6 2118.5,2493.3 2120.0,2492.1 2121.5,2492.1 2123.0,2492.4 2124.5,2492.2 2126.0,2491.0 2127.5,2493.7 2129.0,2494.6 2130.5,2492.6 2132.0,2492.7 2133.5,2493.2 2135.0,2492.8 2136.5,2494.0 2138.0,2493.0 2139.5,2494.6 2141.0,2493.4 2142.5,2493.1 2144.0,2493.8 2145.5,2494.0 2147.0,2496.0 2148.5,2496.5 2150.0,2496.4 2151.5,2496.6 2153.0,2494.5 2154.5,2497.3 2156.0,2495.6 2157.5,2497.4 2159.0,2498.3 2160.5,2496.3 2162.0,2496.7 2163.5,2496.9 2165.0,2495.3 2166.5,2495.5 2168.0,2495.9 2169.5,2496.5 2171.0,2497.2 2172.6,2496.9 2174.1,2497.9 2175.6,2496.9 2177.1,2496.3 2178.6,2497.5 2180.1,2497.6 2181.6,2496.5 2183.1,2498.7 2184.6,2497.2 2186.1,2497.6 2187.6,2498.6 2189.1,2497.5 2190.6,2498.9 2192.1,2498.9 2193.6,2499.2 2195.1,2498.8 2196.6,2498.5 2198.1,2498.1 2199.6,2498.8 2201.2,2499.4 2202.7,2498.8 2204.2,2498.4 2205.7,2498.7 2207.2,2498.7 2208.7,2496.5 2210.2,2497.6 2211.7,2498.5 2213.3,2497.1 2214.8,2497.7 2216.3,2498.6 2217.8,2498.3 2219.3,2499.7 2220.8,2498.7 2222.3,2499.8 2223.8,2501.0 2225.4,2500.5 2226.9,2498.9 2228.4,2499.2 2229.9,2499.2 2231.4,2499.8 2232.9,2498.8 2234.4,2500.2 2235.9,2501.3 2237.5,2501.4 2239.0,2499.7 2240.5,2500.0 2242.0,2499.8 2243.5,2500.1" fill="none" stroke="#00DC90" stroke-width="8" stroke-linejoin="round" stroke-linecap="butt"/>
<line x1="427" y1="702.8" x2="427" y2="2620.4" stroke="#000" stroke-width="5.5" stroke-dasharray="21.5 20.5"/>
<line x1="482.9" y1="800.4" x2="482.9" y2="2620.4" stroke="#000" stroke-width="5.5" stroke-dasharray="21.5 20.5"/>
<line x1="1169.7" y1="1607.4" x2="1370" y2="1515.6" stroke="#000" stroke-width="5.2" stroke-dasharray="20.6 18.9"/>
<polygon points="1370.3,1498.1 1407.3,1498.9 1385.1,1527.7" fill="#000"/>
<line x1="1057.4" y1="1842.3" x2="913.2" y2="1934.7" stroke="#000" stroke-width="5.2" stroke-dasharray="20.1 19"/>
<polygon points="904.5,1921.8 921.8,1949.5 885.4,1952.6" fill="#000"/>
<polygon points="615.7,2314 588.5,2349.7 598.4,2357.6 610.4,2357.6 613.5,2340" fill="#000"/>
<rect x="594.5" y="2358" width="3" height="6" fill="#000"/>
<defs><filter id="b1" x="-20%" y="-20%" width="140%" height="140%"><feGaussianBlur stdDeviation="14"/></filter><filter id="b2" x="-20%" y="-20%" width="140%" height="140%"><feGaussianBlur stdDeviation="4"/></filter><filter id="b3" x="-20%" y="-20%" width="140%" height="140%"><feGaussianBlur stdDeviation="30"/></filter><filter id="b4" x="-20%" y="-20%" width="140%" height="140%"><feGaussianBlur stdDeviation="8"/></filter><filter id="b5" x="-20%" y="-20%" width="140%" height="140%"><feGaussianBlur stdDeviation="95"/></filter><filter id="b6" x="-20%" y="-20%" width="140%" height="140%"><feGaussianBlur stdDeviation="3"/></filter><clipPath id="c1"><rect x="1504.4" y="594.4" width="381.6" height="301" rx="43"/></clipPath><clipPath id="c2"><rect x="1063.8" y="1111" width="642.4" height="367.5" rx="47"/></clipPath><clipPath id="c3"><rect x="346.2" y="1841.8" width="502" height="333.7" rx="43.6"/></clipPath><clipPath id="c4"><rect x="1245.3" y="2206.5" width="403.6" height="265.6" rx="36"/></clipPath></defs>
<g clip-path="url(#c1)"><g transform="translate(1500,590) scale(0.229)"><g filter="url(#b5)"><rect x="-232.0" y="-232.0" width="459.4" height="470.5" fill="#5c5c5c"/><rect x="226.4" y="-232.0" width="209.4" height="470.5" fill="#686868"/><rect x="434.8" y="-232.0" width="209.4" height="470.5" fill="#606060"/><rect x="643.1" y="-232.0" width="209.4" height="470.5" fill="#4a4a4a"/><rect x="851.5" y="-232.0" width="209.4" height="470.5" fill="#7c7c7c"/><rect x="1059.9" y="-232.0" width="209.4" height="470.5" fill="#9a9a9a"/><rect x="1268.2" y="-232.0" width="209.4" height="470.5" fill="#8e8e8e"/><rect x="1476.6" y="-232.0" width="459.4" height="470.5" fill="#787878"/><rect x="-232.0" y="237.5" width="459.4" height="220.5" fill="#585858"/><rect x="226.4" y="237.5" width="209.4" height="220.5" fill="#747474"/><rect x="434.8" y="237.5" width="209.4" height="220.5" fill="#5a5a5a"/><rect x="643.1" y="237.5" width="209.4" height="220.5" fill="#606060"/><rect x="851.5" y="237.5" width="209.4" height="220.5" fill="#6c6c6c"/><rect x="1059.9" y="237.5" width="209.4" height="220.5" fill="#a4a4a4"/><rect x="1268.2" y="237.5" width="209.4" height="220.5" fill="#8c8c8c"/><rect x="1476.6" y="237.5" width="459.4" height="220.5" fill="#6e6e6e"/><rect x="-232.0" y="457.0" width="459.4" height="220.5" fill="#343434"/><rect x="226.4" y="457.0" width="209.4" height="220.5" fill="#5e5e5e"/><rect x="434.8" y="457.0" width="209.4" height="220.5" fill="#7a7a7a"/><rect x="643.1" y="457.0" width="209.4" height="220.5" fill="#6a6a6a"/><rect x="851.5" y="457.0" width="209.4" height="220.5" fill="#3c3c3c"/><rect x="1059.9" y="457.0" width="209.4" height="220.5" fill="#585858"/><rect x="1268.2" y="457.0" width="209.4" height="220.5" fill="#4a4a4a"/><rect x="1476.6" y="457.0" width="459.4" height="220.5" fill="#404040"/><rect x="-232.0" y="676.5" width="459.4" height="220.5" fill="#2c2c2c"/><rect x="226.4" y="676.5" width="209.4" height="220.5" fill="#5a5a5a"/><rect x="434.8" y="676.5" width="209.4" height="220.5" fill="#909090"/><rect x="643.1" y="676.5" width="209.4" height="220.5" fill="#b0b0b0"/><rect x="851.5" y="676.5" width="209.4" height="220.5" fill="#8a8a8a"/><rect x="1059.9" y="676.5" width="209.4" height="220.5" fill="#5a5a5a"/><rect x="1268.2" y="676.5" width="209.4" height="220.5" fill="#2c2c2c"/><rect x="1476.6" y="676.5" width="459.4" height="220.5" fill="#383838"/><rect x="-232.0" y="896.0" width="459.4" height="220.5" fill="#303030"/><rect x="226.4" y="896.0" width="209.4" height="220.5" fill="#585858"/><rect x="434.8" y="896.0" width="209.4" height="220.5" fill="#a8a8a8"/><rect x="643.1" y="896.0" width="209.4" height="220.5" fill="#a8a8a8"/><rect x="851.5" y="896.0" width="209.4" height="220.5" fill="#7a7a7a"/><rect x="1059.9" y="896.0" width="209.4" height="220.5" fill="#404040"/><rect x="1268.2" y="896.0" width="209.4" height="220.5" fill="#3a3a3a"/><rect x="1476.6" y="896.0" width="459.4" height="220.5" fill="#3e3e3e"/><rect x="-232.0" y="1115.5" width="459.4" height="470.5" fill="#202020"/><rect x="226.4" y="1115.5" width="209.4" height="470.5" fill="#3a3a3a"/><rect x="434.8" y="1115.5" width="209.4" height="470.5" fill="#5a5a5a"/><rect x="643.1" y="1115.5" width="209.4" height="470.5" fill="#6e6e6e"/><rect x="851.5" y="1115.5" width="209.4" height="470.5" fill="#4a4a4a"/><rect x="1059.9" y="1115.5" width="209.4" height="470.5" fill="#363636"/><rect x="1268.2" y="1115.5" width="209.4" height="470.5" fill="#3a3a3a"/><rect x="1476.6" y="1115.5" width="459.4" height="470.5" fill="#303030"/></g><g filter="url(#b1)"><ellipse cx="1200" cy="290" rx="185" ry="175" fill="#a6a6a6"/><ellipse cx="1010" cy="330" rx="80" ry="90" fill="#8a8a8a"/><ellipse cx="760" cy="800" rx="200" ry="195" fill="#b2b2b2"/><ellipse cx="520" cy="990" rx="130" ry="125" fill="#acacac"/><ellipse cx="800" cy="1010" rx="150" ry="115" fill="#a2a2a2"/><ellipse cx="620" cy="560" rx="130" ry="100" fill="#828282"/><ellipse cx="420" cy="330" rx="125" ry="125" fill="#7a7a7a"/><ellipse cx="330" cy="280" rx="90" ry="90" fill="#6e6e6e"/><ellipse cx="250" cy="700" rx="110" ry="120" fill="#646464"/><ellipse cx="780" cy="330" rx="150" ry="150" fill="#686868"/><ellipse cx="1500" cy="300" rx="120" ry="130" fill="#7a7a7a"/><ellipse cx="100" cy="820" rx="80" ry="280" fill="#262626"/><ellipse cx="300" cy="1260" rx="200" ry="90" fill="#222"/><ellipse cx="1380" cy="720" rx="170" ry="170" fill="#2a2a2a"/><ellipse cx="930" cy="560" rx="100" ry="60" fill="#353535"/><ellipse cx="880" cy="90" rx="60" ry="80" fill="#3a3a3a"/><ellipse cx="560" cy="210" rx="40" ry="90" fill="#444"/></g><g filter="url(#b4)" opacity="0.6"><path d="M1090,420 C1060,300 1100,140 1230,110 C1330,100 1380,200 1390,300" fill="none" stroke="#dcdcdc" stroke-width="18"/><path d="M1390,300 C1380,380 1330,430 1280,440" fill="none" stroke="#cfcfcf" stroke-width="12"/><path d="M590,700 C620,640 720,620 800,640 C900,660 960,720 960,800" fill="none" stroke="#d4d4d4" stroke-width="14"/><path d="M440,1060 C420,960 460,880 560,860" fill="none" stroke="#c8c8c8" stroke-width="12"/><path d="M1390,60 L1360,300" fill="none" stroke="#d0d0d0" stroke-width="12"/><path d="M1500,60 L1390,230" fill="none" stroke="#bdbdbd" stroke-width="10"/></g><g filter="url(#b1)" opacity="0.35"><circle cx="330" cy="280" r="100" fill="none" stroke="#a0a0a0" stroke-width="12"/><circle cx="470" cy="310" r="95" fill="none" stroke="#a0a0a0" stroke-width="12"/><circle cx="640" cy="250" r="105" fill="none" stroke="#a0a0a0" stroke-width="12"/><circle cx="780" cy="330" r="125" fill="none" stroke="#a0a0a0" stroke-width="12"/><circle cx="1050" cy="330" r="80" fill="none" stroke="#a0a0a0" stroke-width="12"/><circle cx="1450" cy="280" r="115" fill="none" stroke="#a0a0a0" stroke-width="12"/><circle cx="1550" cy="460" r="95" fill="none" stroke="#a0a0a0" stroke-width="12"/><circle cx="600" cy="580" r="115" fill="none" stroke="#a0a0a0" stroke-width="12"/><circle cx="250" cy="700" r="105" fill="none" stroke="#a0a0a0" stroke-width="12"/><circle cx="1000" cy="620" r="75" fill="none" stroke="#a0a0a0" stroke-width="12"/><circle cx="1100" cy="700" r="105" fill="none" stroke="#a0a0a0" stroke-width="12"/><circle cx="380" cy="960" r="80" fill="none" stroke="#a0a0a0" stroke-width="12"/><circle cx="700" cy="1200" r="130" fill="none" stroke="#a0a0a0" stroke-width="12"/><circle cx="120" cy="230" r="95" fill="none" stroke="#a0a0a0" stroke-width="12"/><circle cx="1560" cy="760" r="90" fill="none" stroke="#a0a0a0" stroke-width="12"/></g><rect x="1010" y="897" width="570" height="50" fill="#fff"/><text x="935" y="1208" font-family="'Liberation Sans', Arial, sans-serif" font-weight="bold" font-size="210" fill="#fff" textLength="710" lengthAdjust="spacingAndGlyphs">200 nm</text></g></g>
<g clip-path="url(#c2)"><g transform="translate(1050,1100) scale(0.39342)"><rect x="-100" y="-100" width="2000" height="1300" fill="#474747"/><g filter="url(#b3)"><ellipse cx="250" cy="300" rx="230" ry="170" fill="#5c5c5c"/><ellipse cx="230" cy="650" rx="200" ry="220" fill="#545454"/><ellipse cx="960" cy="620" rx="170" ry="120" fill="#626262"/><ellipse cx="1150" cy="190" rx="140" ry="110" fill="#6a6a6a"/><ellipse cx="620" cy="820" rx="200" ry="110" fill="#505050"/><ellipse cx="1450" cy="820" rx="160" ry="110" fill="#4e4e4e"/><ellipse cx="560" cy="180" rx="150" ry="140" fill="#2c2c2c"/><ellipse cx="1290" cy="150" rx="110" ry="110" fill="#262626"/><ellipse cx="900" cy="320" rx="110" ry="100" fill="#2e2e2e"/><ellipse cx="1360" cy="610" rx="100" ry="120" fill="#282828"/><ellipse cx="520" cy="520" rx="90" ry="80" fill="#2c2c2c"/><ellipse cx="1590" cy="300" rx="80" ry="140" fill="#2e2e2e"/><ellipse cx="780" cy="380" rx="70" ry="70" fill="#303030"/><ellipse cx="1020" cy="420" rx="60" ry="60" fill="#303030"/><ellipse cx="140" cy="500" rx="100" ry="120" fill="#3a3a3a"/><ellipse cx="1180" cy="560" rx="60" ry="80" fill="#303030"/><ellipse cx="300" cy="900" rx="120" ry="70" fill="#3a3a3a"/></g><g filter="url(#b6)"><polyline points="40,150 350,40" fill="none" stroke="#9a9a9a" stroke-width="26" stroke-linecap="round" stroke-linejoin="round"/><polyline points="40,215 300,130" fill="none" stroke="#8a8a8a" stroke-width="20" stroke-linecap="round" stroke-linejoin="round"/><polyline points="40,110 200,40" fill="none" stroke="#a0a0a0" stroke-width="18" stroke-linecap="round" stroke-linejoin="round"/><polyline points="60,260 160,230" fill="none" stroke="#7a7a7a" stroke-width="14" stroke-linecap="round" stroke-linejoin="round"/><polyline points="170,120 330,40" fill="none" stroke="#b0b0b0" stroke-width="16" stroke-linecap="round" stroke-linejoin="round"/><polyline points="620,300 980,40" fill="none" stroke="#b2b2b2" stroke-width="32" stroke-linecap="round" stroke-linejoin="round"/><polyline points="370,230 440,420 405,600 440,960" fill="none" stroke="#8e8e8e" stroke-width="28" stroke-linecap="round" stroke-linejoin="round"/><polyline points="430,430 560,460" fill="none" stroke="#909090" stroke-width="14" stroke-linecap="round" stroke-linejoin="round"/><polyline points="560,410 575,520" fill="none" stroke="#808080" stroke-width="12" stroke-linecap="round" stroke-linejoin="round"/><polyline points="700,240 800,460" fill="none" stroke="#989898" stroke-width="16" stroke-linecap="round" stroke-linejoin="round"/><polyline points="500,250 830,470" fill="none" stroke="#bcbcbc" stroke-width="26" stroke-linecap="round" stroke-linejoin="round"/><polyline points="830,470 1370,330" fill="none" stroke="#bebebe" stroke-width="38" stroke-linecap="round" stroke-linejoin="round"/><polyline points="1370,330 1400,40" fill="none" stroke="#b0b0b0" stroke-width="32" stroke-linecap="round" stroke-linejoin="round"/><polyline points="1370,330 1668,570" fill="none" stroke="#adadad" stroke-width="32" stroke-linecap="round" stroke-linejoin="round"/><polyline points="1370,330 1110,290" fill="none" stroke="#a8a8a8" stroke-width="22" stroke-linecap="round" stroke-linejoin="round"/><polyline points="830,470 790,960" fill="none" stroke="#a0a0a0" stroke-width="26" stroke-linecap="round" stroke-linejoin="round"/><polyline points="660,90 680,400 680,590" fill="none" stroke="#acacac" stroke-width="26" stroke-linecap="round" stroke-linejoin="round"/><polyline points="680,590 40,830" fill="none" stroke="#b0b0b0" stroke-width="32" stroke-linecap="round" stroke-linejoin="round"/><polyline points="810,640 1100,730" fill="none" stroke="#b2b2b2" stroke-width="32" stroke-linecap="round" stroke-linejoin="round"/><polyline points="680,590 810,640" fill="none" stroke="#eeeeee" stroke-width="38" stroke-linecap="round" stroke-linejoin="round"/><polyline points="1100,730 1230,440" fill="none" stroke="#9c9c9c" stroke-width="22" stroke-linecap="round" stroke-linejoin="round"/><polyline points="1230,450 1350,700" fill="none" stroke="#959595" stroke-width="18" stroke-linecap="round" stroke-linejoin="round"/><polyline points="1270,440 1480,620" fill="none" stroke="#999" stroke-width="18" stroke-linecap="round" stroke-linejoin="round"/><polyline points="1300,430 1600,600" fill="none" stroke="#8e8e8e" stroke-width="16" stroke-linecap="round" stroke-linejoin="round"/><polyline points="1250,450 1180,700" fill="none" stroke="#8c8c8c" stroke-width="16" stroke-linecap="round" stroke-linejoin="round"/><polyline points="1400,400 1668,680" fill="none" stroke="#9a9a9a" stroke-width="20" stroke-linecap="round" stroke-linejoin="round"/><polyline points="1530,40 1420,330" fill="none" stroke="#9a9a9a" stroke-width="22" stroke-linecap="round" stroke-linejoin="round"/><polyline points="1460,140 1668,210" fill="none" stroke="#8e8e8e" stroke-width="18" stroke-linecap="round" stroke-linejoin="round"/><polyline points="1560,500 1668,470" fill="none" stroke="#999" stroke-width="16" stroke-linecap="round" stroke-linejoin="round"/><polyline points="880,960 1620,470" fill="none" stroke="#989898" stroke-width="22" stroke-linecap="round" stroke-linejoin="round"/><polyline points="1100,730 1668,520" fill="none" stroke="#868686" stroke-width="16" stroke-linecap="round" stroke-linejoin="round"/><polyline points="1200,960 1668,640" fill="none" stroke="#8a8a8a" stroke-width="18" stroke-linecap="round" stroke-linejoin="round"/><polyline points="40,700 230,960" fill="none" stroke="#9a9a9a" stroke-width="26" stroke-linecap="round" stroke-linejoin="round"/><polyline points="500,820 430,960" fill="none" stroke="#808080" stroke-width="18" stroke-linecap="round" stroke-linejoin="round"/><polyline points="600,720 760,960" fill="none" stroke="#7e7e7e" stroke-width="16" stroke-linecap="round" stroke-linejoin="round"/><polyline points="980,960 1060,760" fill="none" stroke="#808080" stroke-width="16" stroke-linecap="round" stroke-linejoin="round"/><polyline points="920,300 1050,560" fill="none" stroke="#808080" stroke-width="14" stroke-linecap="round" stroke-linejoin="round"/><polyline points="1150,260 1000,480" fill="none" stroke="#8a8a8a" stroke-width="16" stroke-linecap="round" stroke-linejoin="round"/><polyline points="40,380 250,330" fill="none" stroke="#767676" stroke-width="14" stroke-linecap="round" stroke-linejoin="round"/><polyline points="860,240 1100,300" fill="none" stroke="#7a7a7a" stroke-width="14" stroke-linecap="round" stroke-linejoin="round"/><polyline points="1120,250 1200,250" fill="none" stroke="#c0c0c0" stroke-width="30" stroke-linecap="round" stroke-linejoin="round"/><polyline points="1000,620 1150,520" fill="none" stroke="#7a7a7a" stroke-width="14" stroke-linecap="round" stroke-linejoin="round"/><polyline points="60,800 140,830" fill="none" stroke="#c4c4c4" stroke-width="30" stroke-linecap="round" stroke-linejoin="round"/><polyline points="150,520 60,560" fill="none" stroke="#6e6e6e" stroke-width="14" stroke-linecap="round" stroke-linejoin="round"/><polyline points="1250,470 1400,960" fill="none" stroke="#8c8c8c" stroke-width="16" stroke-linecap="round" stroke-linejoin="round"/><polyline points="1350,450 1560,800" fill="none" stroke="#929292" stroke-width="16" stroke-linecap="round" stroke-linejoin="round"/><polyline points="1430,500 1668,760" fill="none" stroke="#9a9a9a" stroke-width="18" stroke-linecap="round" stroke-linejoin="round"/><polyline points="1060,960 1350,700" fill="none" stroke="#888" stroke-width="16" stroke-linecap="round" stroke-linejoin="round"/><polyline points="1150,960 1500,720" fill="none" stroke="#8e8e8e" stroke-width="16" stroke-linecap="round" stroke-linejoin="round"/><polyline points="1300,960 1668,700" fill="none" stroke="#909090" stroke-width="18" stroke-linecap="round" stroke-linejoin="round"/><polyline points="1000,40 1100,300" fill="none" stroke="#7e7e7e" stroke-width="14" stroke-linecap="round" stroke-linejoin="round"/><polyline points="1080,40 1220,220" fill="none" stroke="#8a8a8a" stroke-width="16" stroke-linecap="round" stroke-linejoin="round"/><polyline points="740,60 1000,170" fill="none" stroke="#747474" stroke-width="12" stroke-linecap="round" stroke-linejoin="round"/><polyline points="1500,860 1668,820" fill="none" stroke="#8a8a8a" stroke-width="16" stroke-linecap="round" stroke-linejoin="round"/><polyline points="1560,960 1668,880" fill="none" stroke="#909090" stroke-width="16" stroke-linecap="round" stroke-linejoin="round"/></g><rect x="1220" y="668" width="280" height="37" fill="#fff"/><text x="1160" y="888" font-family="'Liberation Sans', Arial, sans-serif" font-weight="bold" font-size="155" fill="#fff" textLength="380" lengthAdjust="spacingAndGlyphs">1 µm</text></g></g>
<g clip-path="url(#c3)"><g transform="translate(330,1830) scale(0.31122)"><rect x="-100" y="-100" width="2000" height="1400" fill="#1c1c1c"/><g filter="url(#b3)"><ellipse cx="850" cy="880" rx="950" ry="300" fill="#4a4a4a"/><ellipse cx="180" cy="200" rx="220" ry="180" fill="#404040"/><ellipse cx="1100" cy="110" rx="300" ry="90" fill="#2a2a2a"/><ellipse cx="1400" cy="470" rx="280" ry="120" fill="#3e3e3e"/><ellipse cx="620" cy="470" rx="120" ry="110" fill="#222"/><ellipse cx="250" cy="600" rx="220" ry="160" fill="#3e3e3e"/><ellipse cx="450" cy="250" rx="150" ry="120" fill="#353535"/></g><g filter="url(#b4)"><polyline points="150,90 260,70" fill="none" stroke="#6a6a6a" stroke-width="50" stroke-linecap="round" stroke-linejoin="round"/><polyline points="120,170 200,120" fill="none" stroke="#5a5a5a" stroke-width="45" stroke-linecap="round" stroke-linejoin="round"/><polyline points="400,230 445.0,152.05771365940052" fill="none" stroke="#9a9a9a" stroke-width="50" stroke-linecap="round" stroke-linejoin="round"/><polyline points="400,230 445.0,307.9422863405995" fill="none" stroke="#808080" stroke-width="50" stroke-linecap="round" stroke-linejoin="round"/><polyline points="400,230 310.0,230.0" fill="none" stroke="#808080" stroke-width="50" stroke-linecap="round" stroke-linejoin="round"/><circle cx="400" cy="230" r="27.500000000000004" fill="#9a9a9a"/><polyline points="400,260 330,410" fill="none" stroke="#707070" stroke-width="50" stroke-linecap="round" stroke-linejoin="round"/><polyline points="500,390 560,560" fill="none" stroke="#686868" stroke-width="48" stroke-linecap="round" stroke-linejoin="round"/><polyline points="860,210 880,290" fill="none" stroke="#5a5a5a" stroke-width="42" stroke-linecap="round" stroke-linejoin="round"/><polyline points="320,400 470,420" fill="none" stroke="#666" stroke-width="45" stroke-linecap="round" stroke-linejoin="round"/><polyline points="330,140 420,160" fill="none" stroke="#8a8a8a" stroke-width="45" stroke-linecap="round" stroke-linejoin="round"/><polyline points="560,250 530,420" fill="none" stroke="#6e6e6e" stroke-width="42" stroke-linecap="round" stroke-linejoin="round"/><polyline points="240,620 380,690" fill="none" stroke="#8a8a8a" stroke-width="50" stroke-linecap="round" stroke-linejoin="round"/><polyline points="120,450 200,560" fill="none" stroke="#5e5e5e" stroke-width="45" stroke-linecap="round" stroke-linejoin="round"/><polyline points="180,330 90,420" fill="none" stroke="#5a5a5a" stroke-width="42" stroke-linecap="round" stroke-linejoin="round"/><polyline points="380,520 460,600" fill="none" stroke="#7a7a7a" stroke-width="45" stroke-linecap="round" stroke-linejoin="round"/><polyline points="60,650 160,620" fill="none" stroke="#6a6a6a" stroke-width="45" stroke-linecap="round" stroke-linejoin="round"/><polyline points="1150,300 1250,330" fill="none" stroke="#4e4e4e" stroke-width="40" stroke-linecap="round" stroke-linejoin="round"/><polyline points="1300,420 1420,380" fill="none" stroke="#6a6a6a" stroke-width="45" stroke-linecap="round" stroke-linejoin="round"/><polyline points="1180,520 1240,600" fill="none" stroke="#7a7a7a" stroke-width="45" stroke-linecap="round" stroke-linejoin="round"/><polyline points="600,210 830,420" fill="none" stroke="#bcbcbc" stroke-width="75" stroke-linecap="round" stroke-linejoin="round"/><polyline points="830,420 720,560" fill="none" stroke="#cccccc" stroke-width="68" stroke-linecap="round" stroke-linejoin="round"/><polyline points="830,420 840,610" fill="none" stroke="#c0c0c0" stroke-width="64" stroke-linecap="round" stroke-linejoin="round"/><polyline points="830,420 1100,440" fill="none" stroke="#8e8e8e" stroke-width="62" stroke-linecap="round" stroke-linejoin="round"/><circle cx="600" cy="215" r="38" fill="#d0d0d0"/><polyline points="600,630 790,660" fill="none" stroke="#a0a0a0" stroke-width="58" stroke-linecap="round" stroke-linejoin="round"/><polyline points="130,880 171.04241719908026,767.236885505691" fill="none" stroke="#dcdcdc" stroke-width="58" stroke-linecap="round" stroke-linejoin="round"/><polyline points="130,880 207.13451316238474,971.9253331742774" fill="none" stroke="#c6c6c6" stroke-width="58" stroke-linecap="round" stroke-linejoin="round"/><polyline points="130,880 11.823069638535031,900.8377813200316" fill="none" stroke="#c6c6c6" stroke-width="58" stroke-linecap="round" stroke-linejoin="round"/><circle cx="130" cy="880" r="31.900000000000002" fill="#dcdcdc"/><polyline points="320,790 309.541310870281,670.4566362289905" fill="none" stroke="#d0d0d0" stroke-width="55" stroke-linecap="round" stroke-linejoin="round"/><polyline points="320,790 428.756934444398,840.714191408884" fill="none" stroke="#bcbcbc" stroke-width="55" stroke-linecap="round" stroke-linejoin="round"/><polyline points="320,790 221.70175468532096,858.8291723621255" fill="none" stroke="#bcbcbc" stroke-width="55" stroke-linecap="round" stroke-linejoin="round"/><circle cx="320" cy="790" r="30.250000000000004" fill="#d0d0d0"/><polyline points="480,980 579.5929214352104,922.5" fill="none" stroke="#d8d8d8" stroke-width="58" stroke-linecap="round" stroke-linejoin="round"/><polyline points="480,980 480.0,1095.0" fill="none" stroke="#c2c2c2" stroke-width="58" stroke-linecap="round" stroke-linejoin="round"/><polyline points="480,980 380.4070785647896,922.5" fill="none" stroke="#c2c2c2" stroke-width="58" stroke-linecap="round" stroke-linejoin="round"/><circle cx="480" cy="980" r="31.900000000000002" fill="#d8d8d8"/><polyline points="700,760 662.3777842341765,656.6338117135501" fill="none" stroke="#e0e0e0" stroke-width="58" stroke-linecap="round" stroke-linejoin="round"/><polyline points="700,760 808.3288528313428,779.1012995433623" fill="none" stroke="#cfcfcf" stroke-width="58" stroke-linecap="round" stroke-linejoin="round"/><polyline points="700,760 629.2933629344807,844.2648887430876" fill="none" stroke="#cfcfcf" stroke-width="58" stroke-linecap="round" stroke-linejoin="round"/><circle cx="700" cy="760" r="31.900000000000002" fill="#e0e0e0"/><polyline points="640,900 733.9692620785909,934.2020143325668" fill="none" stroke="#b0b0b0" stroke-width="52" stroke-linecap="round" stroke-linejoin="round"/><polyline points="640,900 563.3955556881021,964.278760968654" fill="none" stroke="#b0b0b0" stroke-width="52" stroke-linecap="round" stroke-linejoin="round"/><polyline points="640,900 622.635182233307,801.5192246987792" fill="none" stroke="#b0b0b0" stroke-width="52" stroke-linecap="round" stroke-linejoin="round"/><circle cx="640" cy="900" r="28.6" fill="#b0b0b0"/><polyline points="930,870 1010.3484512108174,774.2444446101277" fill="none" stroke="#e4e4e4" stroke-width="64" stroke-linecap="round" stroke-linejoin="round"/><polyline points="930,870 972.7525179157086,987.4615775982386" fill="none" stroke="#d0d0d0" stroke-width="64" stroke-linecap="round" stroke-linejoin="round"/><polyline points="930,870 806.899030873474,848.2939777916337" fill="none" stroke="#d0d0d0" stroke-width="64" stroke-linecap="round" stroke-linejoin="round"/><circle cx="930" cy="870" r="35.2" fill="#e4e4e4"/><polyline points="1000,680 1015.6283359900237,591.3673022289013" fill="none" stroke="#b4b4b4" stroke-width="48" stroke-linecap="round" stroke-linejoin="round"/><polyline points="1000,680 1068.943999880708,737.8508848717885" fill="none" stroke="#b4b4b4" stroke-width="48" stroke-linecap="round" stroke-linejoin="round"/><polyline points="1000,680 915.4276641292682,710.7818128993102" fill="none" stroke="#b4b4b4" stroke-width="48" stroke-linecap="round" stroke-linejoin="round"/><circle cx="1000" cy="680" r="26.400000000000002" fill="#b4b4b4"/><polyline points="1180,880 1076.584000178938,793.2236726923172" fill="none" stroke="#e6e6e6" stroke-width="66" stroke-linecap="round" stroke-linejoin="round"/><polyline points="1180,880 1306.8585038060976,833.8272806510347" fill="none" stroke="#d0d0d0" stroke-width="66" stroke-linecap="round" stroke-linejoin="round"/><polyline points="1180,880 1156.5574960149645,1012.9490466566481" fill="none" stroke="#d0d0d0" stroke-width="66" stroke-linecap="round" stroke-linejoin="round"/><circle cx="1180" cy="880" r="36.300000000000004" fill="#e6e6e6"/><polyline points="1280,700 1327.5,617.7275866404783" fill="none" stroke="#d0d0d0" stroke-width="50" stroke-linecap="round" stroke-linejoin="round"/><polyline points="1280,700 1327.5,782.2724133595217" fill="none" stroke="#bcbcbc" stroke-width="50" stroke-linecap="round" stroke-linejoin="round"/><polyline points="1280,700 1185.0,700.0" fill="none" stroke="#bcbcbc" stroke-width="50" stroke-linecap="round" stroke-linejoin="round"/><circle cx="1280" cy="700" r="27.500000000000004" fill="#d0d0d0"/><polyline points="1500,560 1424.8245903371273,532.6383885339465" fill="none" stroke="#b0b0b0" stroke-width="46" stroke-linecap="round" stroke-linejoin="round"/><polyline points="1500,560 1561.2835554495182,508.5769912250768" fill="none" stroke="#b0b0b0" stroke-width="46" stroke-linecap="round" stroke-linejoin="round"/><polyline points="1500,560 1513.8918542133545,638.7846202409767" fill="none" stroke="#b0b0b0" stroke-width="46" stroke-linecap="round" stroke-linejoin="round"/><circle cx="1500" cy="560" r="25.3" fill="#b0b0b0"/><polyline points="1570,720 1673.9230484541326,660.0" fill="none" stroke="#e0e0e0" stroke-width="62" stroke-linecap="round" stroke-linejoin="round"/><polyline points="1570,720 1570.0,840.0" fill="none" stroke="#cccccc" stroke-width="62" stroke-linecap="round" stroke-linejoin="round"/><polyline points="1570,720 1466.0769515458674,660.0" fill="none" stroke="#cccccc" stroke-width="62" stroke-linecap="round" stroke-linejoin="round"/><circle cx="1570" cy="720" r="34.1" fill="#e0e0e0"/><polyline points="1420,900 1475.0,995.2627944162882" fill="none" stroke="#b8b8b8" stroke-width="56" stroke-linecap="round" stroke-linejoin="round"/><polyline points="1420,900 1310.0,900.0" fill="none" stroke="#b8b8b8" stroke-width="56" stroke-linecap="round" stroke-linejoin="round"/><polyline points="1420,900 1475.0,804.7372055837118" fill="none" stroke="#b8b8b8" stroke-width="56" stroke-linecap="round" stroke-linejoin="round"/><circle cx="1420" cy="900" r="30.800000000000004" fill="#b8b8b8"/><polyline points="1600,960 1582.635182233307,861.5192246987792" fill="none" stroke="#aaaaaa" stroke-width="52" stroke-linecap="round" stroke-linejoin="round"/><polyline points="1600,960 1693.9692620785909,994.2020143325668" fill="none" stroke="#aaaaaa" stroke-width="52" stroke-linecap="round" stroke-linejoin="round"/><polyline points="1600,960 1523.3955556881021,1024.2787609686538" fill="none" stroke="#aaaaaa" stroke-width="52" stroke-linecap="round" stroke-linejoin="round"/><circle cx="1600" cy="960" r="28.6" fill="#aaaaaa"/><polyline points="820,1040 913.9692620785909,1005.7979856674332" fill="none" stroke="#a8a8a8" stroke-width="52" stroke-linecap="round" stroke-linejoin="round"/><polyline points="820,1040 802.635182233307,1138.4807753012208" fill="none" stroke="#a8a8a8" stroke-width="52" stroke-linecap="round" stroke-linejoin="round"/><polyline points="820,1040 743.3955556881021,975.721239031346" fill="none" stroke="#a8a8a8" stroke-width="52" stroke-linecap="round" stroke-linejoin="round"/><circle cx="820" cy="1040" r="28.6" fill="#a8a8a8"/><polyline points="300,1050 388.6326977710987,1065.6283359900237" fill="none" stroke="#9a9a9a" stroke-width="48" stroke-linecap="round" stroke-linejoin="round"/><polyline points="300,1050 242.14911512821146,1118.943999880708" fill="none" stroke="#9a9a9a" stroke-width="48" stroke-linecap="round" stroke-linejoin="round"/><polyline points="300,1050 269.2181871006898,965.4276641292682" fill="none" stroke="#9a9a9a" stroke-width="48" stroke-linecap="round" stroke-linejoin="round"/><circle cx="300" cy="1050" r="26.400000000000002" fill="#9a9a9a"/><polyline points="1050,1050 1050.0,960.0" fill="none" stroke="#a0a0a0" stroke-width="50" stroke-linecap="round" stroke-linejoin="round"/><polyline points="1050,1050 1127.9422863405994,1095.0" fill="none" stroke="#a0a0a0" stroke-width="50" stroke-linecap="round" stroke-linejoin="round"/><polyline points="1050,1050 972.0577136594005,1095.0" fill="none" stroke="#a0a0a0" stroke-width="50" stroke-linecap="round" stroke-linejoin="round"/><circle cx="1050" cy="1050" r="27.500000000000004" fill="#a0a0a0"/><polyline points="1330,1060 1398.943999880708,1002.1491151282115" fill="none" stroke="#9c9c9c" stroke-width="48" stroke-linecap="round" stroke-linejoin="round"/><polyline points="1330,1060 1345.6283359900237,1148.6326977710987" fill="none" stroke="#9c9c9c" stroke-width="48" stroke-linecap="round" stroke-linejoin="round"/><polyline points="1330,1060 1245.4276641292681,1029.2181871006899" fill="none" stroke="#9c9c9c" stroke-width="48" stroke-linecap="round" stroke-linejoin="round"/><circle cx="1330" cy="1060" r="26.400000000000002" fill="#9c9c9c"/><polyline points="80,1050 164.57233587073176,1019.2181871006898" fill="none" stroke="#b0b0b0" stroke-width="50" stroke-linecap="round" stroke-linejoin="round"/><polyline points="80,1050 64.37166400997627,1138.6326977710987" fill="none" stroke="#b0b0b0" stroke-width="50" stroke-linecap="round" stroke-linejoin="round"/><polyline points="80,1050 11.05600011929198,992.1491151282115" fill="none" stroke="#b0b0b0" stroke-width="50" stroke-linecap="round" stroke-linejoin="round"/><circle cx="80" cy="1050" r="27.500000000000004" fill="#b0b0b0"/></g><rect x="945" y="150" width="690" height="45" fill="#fff"/><text x="955" y="395" font-family="'Liberation Sans', Arial, sans-serif" font-weight="bold" font-size="188" fill="#fff" textLength="680" lengthAdjust="spacingAndGlyphs">500 nm</text></g></g>
<g clip-path="url(#c4)"><g transform="translate(1230,2195) scale(0.25543)"><defs><linearGradient id="rodg" gradientUnits="userSpaceOnUse" x1="0" y1="400" x2="0" y2="1005"><stop offset="0" stop-color="#cacaca"/><stop offset="0.19" stop-color="#bdbdbd"/><stop offset="0.27" stop-color="#8c8c8c"/><stop offset="0.36" stop-color="#6c6c6c"/><stop offset="0.62" stop-color="#666"/><stop offset="0.69" stop-color="#8e8e8e"/><stop offset="0.74" stop-color="#b6b6b6"/><stop offset="0.9" stop-color="#b0b0b0"/><stop offset="1" stop-color="#a6a6a6"/></linearGradient></defs><rect x="-100" y="-100" width="2000" height="1400" fill="#000"/><rect x="100" y="355" width="1400" height="685" fill="#1e1e1e"/><polygon points="105,400 1360,400 1450,570 1450,880 1415,985 105,1005" fill="url(#rodg)"/><g filter="url(#b4)"><polygon points="1285,470 1362,405 1448,572 1448,878 1413,982 1310,985 1280,860" fill="#cfcfcf"/><polygon points="720,380 840,370 860,470 830,560 860,600 800,640 780,680 740,650 760,560 700,540 640,470 670,420" fill="#d8d8d8"/><ellipse cx="400" cy="585" rx="42" ry="45" fill="#dedede"/><ellipse cx="1150" cy="855" rx="18" ry="14" fill="#dddddd"/></g><rect x="258" y="92" width="442" height="43" fill="#fff"/><text x="240" y="328" font-family="'Liberation Sans', Arial, sans-serif" font-weight="bold" font-size="180" fill="#fff" textLength="440" lengthAdjust="spacingAndGlyphs">5 µm</text></g></g>
<g stroke="#000" stroke-width="5.5" fill="none" stroke-linecap="butt">
<line x1="276.9060000000004" y1="281.3" x2="276.9060000000004" y2="2636.9"/>
<line x1="2243.8632000000002" y1="281.3" x2="2243.8632000000002" y2="2636.9"/>
<line x1="243.4060000000004" y1="283.8" x2="2246.5632" y2="283.8"/>
<line x1="274.2060000000004" y1="2620.4" x2="2246.5632" y2="2620.4"/>
<line x1="276.91" y1="2620.4" x2="276.91" y2="2636.4"/>
<line x1="386.18" y1="2620.4" x2="386.18" y2="2653.4"/>
<line x1="495.46" y1="2620.4" x2="495.46" y2="2636.4"/>
<line x1="604.73" y1="2620.4" x2="604.73" y2="2653.4"/>
<line x1="714.01" y1="2620.4" x2="714.01" y2="2636.4"/>
<line x1="823.28" y1="2620.4" x2="823.28" y2="2653.4"/>
<line x1="932.56" y1="2620.4" x2="932.56" y2="2636.4"/>
<line x1="1041.83" y1="2620.4" x2="1041.83" y2="2653.4"/>
<line x1="1151.11" y1="2620.4" x2="1151.11" y2="2636.4"/>
<line x1="1260.38" y1="2620.4" x2="1260.38" y2="2653.4"/>
<line x1="1369.66" y1="2620.4" x2="1369.66" y2="2636.4"/>
<line x1="1478.94" y1="2620.4" x2="1478.94" y2="2653.4"/>
<line x1="1588.21" y1="2620.4" x2="1588.21" y2="2636.4"/>
<line x1="1697.49" y1="2620.4" x2="1697.49" y2="2653.4"/>
<line x1="1806.76" y1="2620.4" x2="1806.76" y2="2636.4"/>
<line x1="1916.04" y1="2620.4" x2="1916.04" y2="2653.4"/>
<line x1="2025.31" y1="2620.4" x2="2025.31" y2="2636.4"/>
<line x1="2134.59" y1="2620.4" x2="2134.59" y2="2653.4"/>
<line x1="2243.86" y1="2620.4" x2="2243.86" y2="2636.4"/>
<line x1="243.41" y1="283.80" x2="276.9060000000004" y2="283.80"/>
<line x1="260.41" y1="442.50" x2="276.9060000000004" y2="442.50"/>
<line x1="243.41" y1="601.20" x2="276.9060000000004" y2="601.20"/>
<line x1="260.41" y1="759.90" x2="276.9060000000004" y2="759.90"/>
<line x1="243.41" y1="918.60" x2="276.9060000000004" y2="918.60"/>
<line x1="260.41" y1="1077.30" x2="276.9060000000004" y2="1077.30"/>
<line x1="243.41" y1="1236.00" x2="276.9060000000004" y2="1236.00"/>
<line x1="260.41" y1="1394.70" x2="276.9060000000004" y2="1394.70"/>
<line x1="243.41" y1="1553.40" x2="276.9060000000004" y2="1553.40"/>
<line x1="260.41" y1="1712.10" x2="276.9060000000004" y2="1712.10"/>
<line x1="243.41" y1="1870.80" x2="276.9060000000004" y2="1870.80"/>
<line x1="260.41" y1="2029.50" x2="276.9060000000004" y2="2029.50"/>
<line x1="243.41" y1="2188.20" x2="276.9060000000004" y2="2188.20"/>
<line x1="260.41" y1="2346.90" x2="276.9060000000004" y2="2346.90"/>
<line x1="243.41" y1="2505.60" x2="276.9060000000004" y2="2505.60"/>
<line x1="488.64" y1="283.8" x2="488.64" y2="300.3"/>
<line x1="714.44" y1="283.8" x2="714.44" y2="317.3"/>
<line x1="913.69" y1="283.8" x2="913.69" y2="300.3"/>
<line x1="1090.79" y1="283.8" x2="1090.79" y2="317.3"/>
<line x1="1249.25" y1="283.8" x2="1249.25" y2="300.3"/>
<line x1="1391.86" y1="283.8" x2="1391.86" y2="317.3"/>
<line x1="1520.90" y1="283.8" x2="1520.90" y2="300.3"/>
<line x1="1638.20" y1="283.8" x2="1638.20" y2="317.3"/>
<line x1="1745.30" y1="283.8" x2="1745.30" y2="300.3"/>
<line x1="1843.48" y1="283.8" x2="1843.48" y2="317.3"/>
<line x1="1933.80" y1="283.8" x2="1933.80" y2="300.3"/>
<line x1="2017.18" y1="283.8" x2="2017.18" y2="317.3"/>
<line x1="2094.37" y1="283.8" x2="2094.37" y2="300.3"/>
<line x1="2166.06" y1="283.8" x2="2166.06" y2="317.3"/>
<line x1="2232.80" y1="283.8" x2="2232.80" y2="300.3"/>
</g>
<text transform="translate(870.50,105.70) scale(1,1.0)" x="0" y="0" font-family="'Liberation Sans', Arial, sans-serif" font-size="103.12" font-weight="normal" fill="#000">Wavelength (nm)</text>
<text transform="translate(649.57,224.50) scale(1,1.03)" x="0" y="0" font-family="'Liberation Sans', Arial, sans-serif" font-size="75.5" font-weight="normal" fill="#000">400</text>
<text transform="translate(1025.91,224.50) scale(1,1.03)" x="0" y="0" font-family="'Liberation Sans', Arial, sans-serif" font-size="75.5" font-weight="normal" fill="#000">450</text>
<text transform="translate(1326.36,224.50) scale(1,1.03)" x="0" y="0" font-family="'Liberation Sans', Arial, sans-serif" font-size="75.5" font-weight="normal" fill="#000">500</text>
<text transform="translate(1572.70,224.50) scale(1,1.03)" x="0" y="0" font-family="'Liberation Sans', Arial, sans-serif" font-size="75.5" font-weight="normal" fill="#000">550</text>
<text transform="translate(1777.60,224.50) scale(1,1.03)" x="0" y="0" font-family="'Liberation Sans', Arial, sans-serif" font-size="75.5" font-weight="normal" fill="#000">600</text>
<text transform="translate(1951.30,224.50) scale(1,1.03)" x="0" y="0" font-family="'Liberation Sans', Arial, sans-serif" font-size="75.5" font-weight="normal" fill="#000">650</text>
<text transform="translate(2100.18,224.50) scale(1,1.03)" x="0" y="0" font-family="'Liberation Sans', Arial, sans-serif" font-size="75.5" font-weight="normal" fill="#000">700</text>
<text transform="translate(322.06,2748.40) scale(1,1.03)" x="0" y="0" font-family="'Liberation Sans', Arial, sans-serif" font-size="91.7" font-weight="normal" fill="#000">3.4</text>
<text transform="translate(541.48,2748.40) scale(1,1.03)" x="0" y="0" font-family="'Liberation Sans', Arial, sans-serif" font-size="91.7" font-weight="normal" fill="#000">3.2</text>
<text transform="translate(759.53,2748.40) scale(1,1.03)" x="0" y="0" font-family="'Liberation Sans', Arial, sans-serif" font-size="91.7" font-weight="normal" fill="#000">3.0</text>
<text transform="translate(977.83,2748.40) scale(1,1.03)" x="0" y="0" font-family="'Liberation Sans', Arial, sans-serif" font-size="91.7" font-weight="normal" fill="#000">2.8</text>
<text transform="translate(1196.38,2748.40) scale(1,1.03)" x="0" y="0" font-family="'Liberation Sans', Arial, sans-serif" font-size="91.7" font-weight="normal" fill="#000">2.6</text>
<text transform="translate(1414.31,2748.40) scale(1,1.03)" x="0" y="0" font-family="'Liberation Sans', Arial, sans-serif" font-size="91.7" font-weight="normal" fill="#000">2.4</text>
<text transform="translate(1633.74,2748.40) scale(1,1.03)" x="0" y="0" font-family="'Liberation Sans', Arial, sans-serif" font-size="91.7" font-weight="normal" fill="#000">2.2</text>
<text transform="translate(1851.79,2748.40) scale(1,1.03)" x="0" y="0" font-family="'Liberation Sans', Arial, sans-serif" font-size="91.7" font-weight="normal" fill="#000">2.0</text>
<text transform="translate(2069.34,2748.40) scale(1,1.03)" x="0" y="0" font-family="'Liberation Sans', Arial, sans-serif" font-size="91.7" font-weight="normal" fill="#000">1.8</text>
<text transform="translate(984.00,2868.30) scale(1,1.0)" x="0" y="0" font-family="'Liberation Sans', Arial, sans-serif" font-size="103.37" font-weight="normal" fill="#000">Energy (eV)</text>
<text transform="translate(110,1849.25) rotate(-90)" font-family="'Liberation Sans', Arial, sans-serif" font-size="100.62" fill="#000">Normalized intensity</text>
<text transform="translate(1994.25,393.00) scale(1,1.035)" x="0" y="0" font-family="'Liberation Sans', Arial, sans-serif" font-size="82.38" font-weight="normal" fill="#000">LAFD</text>
<text transform="translate(298.68,377.8) scale(1.16,1)" font-family="'Liberation Serif', 'Times New Roman', serif" font-size="80" fill="#000">λ</text>
<text transform="translate(341.25,399.50) scale(1,1.1)" x="0" y="0" font-family="'Liberation Sans', Arial, sans-serif" font-size="55.87" font-weight="normal" fill="#000">exc</text>
<text transform="translate(430.00,371.00) scale(1,1.0)" x="0" y="0" font-family="'Liberation Sans', Arial, sans-serif" font-size="75.5" font-weight="bold" fill="#000">=</text>
<text transform="translate(476.75,377.00) scale(1,1.03)" x="0" y="0" font-family="'Liberation Sans', Arial, sans-serif" font-size="83.13" font-weight="normal" fill="#000">325 nm</text>
<text transform="translate(298.75,496.00) scale(1,1.035)" x="0" y="0" font-family="'Liberation Sans', Arial, sans-serif" font-size="81.62" font-weight="normal" fill="#000">14 K</text>
<text transform="translate(358.95,683.60) scale(1,1.0)" x="0" y="0" font-family="'Liberation Sans', Arial, sans-serif" font-size="78" font-weight="normal" fill="#000">D</text>
<text transform="translate(413.45,651.70) scale(1,1.0)" x="0" y="0" font-family="'Liberation Sans', Arial, sans-serif" font-size="48" font-weight="normal" fill="#000">0</text>
<text transform="translate(435.95,683.60) scale(1,1.0)" x="0" y="0" font-family="'Liberation Sans', Arial, sans-serif" font-size="78" font-weight="normal" fill="#000">X</text>
<text transform="translate(505.85,816.30) scale(1,1.0)" x="0" y="0" font-family="'Liberation Sans', Arial, sans-serif" font-size="73.88" font-weight="normal" fill="#000">3.31 eV line</text>
<text transform="translate(533.95,2295.70) scale(1,1.0)" x="0" y="0" font-family="'Liberation Sans', Arial, sans-serif" font-size="74.13" font-weight="normal" fill="#000">3.31 eV line - LO</text>
<text transform="translate(1849.70,981.30) scale(1,1.02)" x="0" y="0" font-family="'Liberation Sans', Arial, sans-serif" font-size="82.38" font-weight="bold" fill="#000">NP (20 W)</text>
<text transform="translate(1870.40,1721.50) scale(1,1.02)" x="0" y="0" font-family="'Liberation Sans', Arial, sans-serif" font-size="81.37" font-weight="bold" fill="#000">TP (60 W)</text>
<text transform="translate(1862.50,1905.60) scale(1,1.02)" x="0" y="0" font-family="'Liberation Sans', Arial, sans-serif" font-size="80.62" font-weight="bold" fill="#000">TP (30 W)</text>
<text transform="translate(1832.00,2583.80) scale(1,1.02)" x="0" y="0" font-family="'Liberation Sans', Arial, sans-serif" font-size="82.13" font-weight="bold" fill="#000">MR (35 W)</text>
</svg>
</body></html>
